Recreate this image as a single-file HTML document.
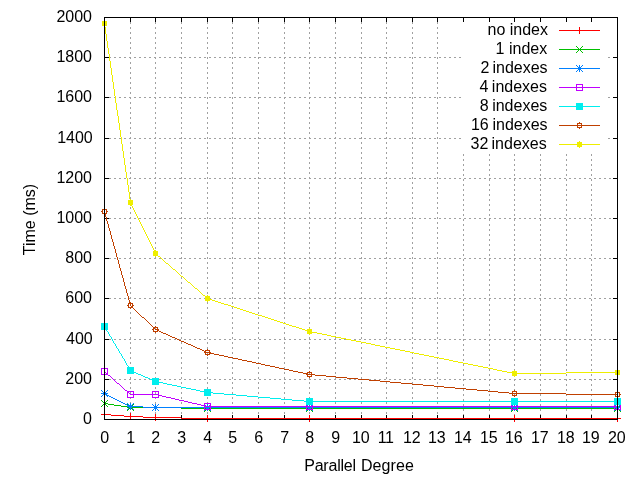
<!DOCTYPE html>
<html><head><meta charset="utf-8"><style>
html,body{margin:0;padding:0;background:#fff;width:640px;height:480px;overflow:hidden}
svg{display:block;will-change:transform}
text{font-family:"Liberation Sans",sans-serif;font-size:16px;fill:#000}
</style></head><body>
<svg width="640" height="480" viewBox="0 0 640 480">
<rect width="640" height="480" fill="#fff"/>
<g shape-rendering="crispEdges">
<path fill="#000000" d="M104 17h514v1h-514zM104 18h1v1h-1zM130 18h1v1h-1zM155 18h1v1h-1zM181 18h1v1h-1zM207 18h1v1h-1zM232 18h1v1h-1zM258 18h1v1h-1zM284 18h1v1h-1zM309 18h1v1h-1zM335 18h1v1h-1zM361 18h1v1h-1zM386 18h1v1h-1zM412 18h1v1h-1zM437 18h1v1h-1zM463 18h1v1h-1zM489 18h1v1h-1zM514 18h1v1h-1zM540 18h1v1h-1zM566 18h1v1h-1zM591 18h1v1h-1zM617 18h1v1h-1zM104 19h1v1h-1zM130 19h1v1h-1zM155 19h1v1h-1zM181 19h1v1h-1zM207 19h1v1h-1zM232 19h1v1h-1zM258 19h1v1h-1zM284 19h1v1h-1zM309 19h1v1h-1zM335 19h1v1h-1zM361 19h1v1h-1zM386 19h1v1h-1zM412 19h1v1h-1zM437 19h1v1h-1zM463 19h1v1h-1zM489 19h1v1h-1zM514 19h1v1h-1zM540 19h1v1h-1zM566 19h1v1h-1zM591 19h1v1h-1zM617 19h1v1h-1zM104 20h1v1h-1zM130 20h1v1h-1zM155 20h1v1h-1zM181 20h1v1h-1zM207 20h1v1h-1zM232 20h1v1h-1zM258 20h1v1h-1zM284 20h1v1h-1zM309 20h1v1h-1zM335 20h1v1h-1zM361 20h1v1h-1zM386 20h1v1h-1zM412 20h1v1h-1zM437 20h1v1h-1zM463 20h1v1h-1zM489 20h1v1h-1zM514 20h1v1h-1zM540 20h1v1h-1zM566 20h1v1h-1zM591 20h1v1h-1zM617 20h1v1h-1zM104 21h1v1h-1zM130 21h1v1h-1zM155 21h1v1h-1zM181 21h1v1h-1zM207 21h1v1h-1zM232 21h1v1h-1zM258 21h1v1h-1zM284 21h1v1h-1zM309 21h1v1h-1zM335 21h1v1h-1zM361 21h1v1h-1zM386 21h1v1h-1zM412 21h1v1h-1zM437 21h1v1h-1zM463 21h1v1h-1zM489 21h1v1h-1zM514 21h1v1h-1zM540 21h1v1h-1zM566 21h1v1h-1zM591 21h1v1h-1zM617 21h1v1h-1zM104 22h1v1h-1zM617 22h1v1h-1zM104 23h1v1h-1zM617 23h1v1h-1zM104 24h1v1h-1zM617 24h1v1h-1zM104 25h1v1h-1zM617 25h1v1h-1zM104 26h1v1h-1zM617 26h1v1h-1zM104 27h1v1h-1zM617 27h1v1h-1zM104 28h1v1h-1zM617 28h1v1h-1zM104 29h1v1h-1zM617 29h1v1h-1zM104 30h1v1h-1zM617 30h1v1h-1zM104 31h1v1h-1zM617 31h1v1h-1zM104 32h1v1h-1zM617 32h1v1h-1zM104 33h1v1h-1zM617 33h1v1h-1zM104 34h1v1h-1zM617 34h1v1h-1zM104 35h1v1h-1zM617 35h1v1h-1zM104 36h1v1h-1zM617 36h1v1h-1zM104 37h1v1h-1zM617 37h1v1h-1zM104 38h1v1h-1zM617 38h1v1h-1zM104 39h1v1h-1zM617 39h1v1h-1zM104 40h1v1h-1zM617 40h1v1h-1zM104 41h1v1h-1zM617 41h1v1h-1zM104 42h1v1h-1zM617 42h1v1h-1zM104 43h1v1h-1zM617 43h1v1h-1zM104 44h1v1h-1zM617 44h1v1h-1zM104 45h1v1h-1zM617 45h1v1h-1zM104 46h1v1h-1zM617 46h1v1h-1zM104 47h1v1h-1zM617 47h1v1h-1zM104 48h1v1h-1zM617 48h1v1h-1zM104 49h1v1h-1zM617 49h1v1h-1zM104 50h1v1h-1zM617 50h1v1h-1zM104 51h1v1h-1zM617 51h1v1h-1zM104 52h1v1h-1zM617 52h1v1h-1zM104 53h1v1h-1zM617 53h1v1h-1zM104 54h1v1h-1zM617 54h1v1h-1zM104 55h1v1h-1zM617 55h1v1h-1zM104 56h1v1h-1zM617 56h1v1h-1zM104 57h5v1h-5zM613 57h5v1h-5zM104 58h1v1h-1zM617 58h1v1h-1zM104 59h1v1h-1zM617 59h1v1h-1zM104 60h1v1h-1zM617 60h1v1h-1zM104 61h1v1h-1zM617 61h1v1h-1zM104 62h1v1h-1zM617 62h1v1h-1zM104 63h1v1h-1zM617 63h1v1h-1zM104 64h1v1h-1zM617 64h1v1h-1zM104 65h1v1h-1zM617 65h1v1h-1zM104 66h1v1h-1zM617 66h1v1h-1zM104 67h1v1h-1zM617 67h1v1h-1zM104 68h1v1h-1zM617 68h1v1h-1zM104 69h1v1h-1zM617 69h1v1h-1zM104 70h1v1h-1zM617 70h1v1h-1zM104 71h1v1h-1zM617 71h1v1h-1zM104 72h1v1h-1zM617 72h1v1h-1zM104 73h1v1h-1zM617 73h1v1h-1zM104 74h1v1h-1zM617 74h1v1h-1zM104 75h1v1h-1zM617 75h1v1h-1zM104 76h1v1h-1zM617 76h1v1h-1zM104 77h1v1h-1zM617 77h1v1h-1zM104 78h1v1h-1zM617 78h1v1h-1zM104 79h1v1h-1zM617 79h1v1h-1zM104 80h1v1h-1zM617 80h1v1h-1zM104 81h1v1h-1zM617 81h1v1h-1zM104 82h1v1h-1zM617 82h1v1h-1zM104 83h1v1h-1zM617 83h1v1h-1zM104 84h1v1h-1zM617 84h1v1h-1zM104 85h1v1h-1zM617 85h1v1h-1zM104 86h1v1h-1zM617 86h1v1h-1zM104 87h1v1h-1zM617 87h1v1h-1zM104 88h1v1h-1zM617 88h1v1h-1zM104 89h1v1h-1zM617 89h1v1h-1zM104 90h1v1h-1zM617 90h1v1h-1zM104 91h1v1h-1zM617 91h1v1h-1zM104 92h1v1h-1zM617 92h1v1h-1zM104 93h1v1h-1zM617 93h1v1h-1zM104 94h1v1h-1zM617 94h1v1h-1zM104 95h1v1h-1zM617 95h1v1h-1zM104 96h1v1h-1zM617 96h1v1h-1zM104 97h5v1h-5zM613 97h5v1h-5zM104 98h1v1h-1zM617 98h1v1h-1zM104 99h1v1h-1zM617 99h1v1h-1zM104 100h1v1h-1zM617 100h1v1h-1zM104 101h1v1h-1zM617 101h1v1h-1zM104 102h1v1h-1zM617 102h1v1h-1zM104 103h1v1h-1zM617 103h1v1h-1zM104 104h1v1h-1zM617 104h1v1h-1zM104 105h1v1h-1zM617 105h1v1h-1zM104 106h1v1h-1zM617 106h1v1h-1zM104 107h1v1h-1zM617 107h1v1h-1zM104 108h1v1h-1zM617 108h1v1h-1zM104 109h1v1h-1zM617 109h1v1h-1zM104 110h1v1h-1zM617 110h1v1h-1zM104 111h1v1h-1zM617 111h1v1h-1zM104 112h1v1h-1zM617 112h1v1h-1zM104 113h1v1h-1zM617 113h1v1h-1zM104 114h1v1h-1zM617 114h1v1h-1zM104 115h1v1h-1zM617 115h1v1h-1zM104 116h1v1h-1zM617 116h1v1h-1zM104 117h1v1h-1zM617 117h1v1h-1zM104 118h1v1h-1zM617 118h1v1h-1zM104 119h1v1h-1zM617 119h1v1h-1zM104 120h1v1h-1zM617 120h1v1h-1zM104 121h1v1h-1zM617 121h1v1h-1zM104 122h1v1h-1zM617 122h1v1h-1zM104 123h1v1h-1zM617 123h1v1h-1zM104 124h1v1h-1zM617 124h1v1h-1zM104 125h1v1h-1zM617 125h1v1h-1zM104 126h1v1h-1zM617 126h1v1h-1zM104 127h1v1h-1zM617 127h1v1h-1zM104 128h1v1h-1zM617 128h1v1h-1zM104 129h1v1h-1zM617 129h1v1h-1zM104 130h1v1h-1zM617 130h1v1h-1zM104 131h1v1h-1zM617 131h1v1h-1zM104 132h1v1h-1zM617 132h1v1h-1zM104 133h1v1h-1zM617 133h1v1h-1zM104 134h1v1h-1zM617 134h1v1h-1zM104 135h1v1h-1zM617 135h1v1h-1zM104 136h1v1h-1zM617 136h1v1h-1zM104 137h1v1h-1zM617 137h1v1h-1zM104 138h5v1h-5zM613 138h5v1h-5zM104 139h1v1h-1zM617 139h1v1h-1zM104 140h1v1h-1zM617 140h1v1h-1zM104 141h1v1h-1zM617 141h1v1h-1zM104 142h1v1h-1zM617 142h1v1h-1zM104 143h1v1h-1zM617 143h1v1h-1zM104 144h1v1h-1zM617 144h1v1h-1zM104 145h1v1h-1zM617 145h1v1h-1zM104 146h1v1h-1zM617 146h1v1h-1zM104 147h1v1h-1zM617 147h1v1h-1zM104 148h1v1h-1zM617 148h1v1h-1zM104 149h1v1h-1zM617 149h1v1h-1zM104 150h1v1h-1zM617 150h1v1h-1zM104 151h1v1h-1zM617 151h1v1h-1zM104 152h1v1h-1zM617 152h1v1h-1zM104 153h1v1h-1zM617 153h1v1h-1zM104 154h1v1h-1zM617 154h1v1h-1zM104 155h1v1h-1zM617 155h1v1h-1zM104 156h1v1h-1zM617 156h1v1h-1zM104 157h1v1h-1zM617 157h1v1h-1zM104 158h1v1h-1zM617 158h1v1h-1zM104 159h1v1h-1zM617 159h1v1h-1zM104 160h1v1h-1zM617 160h1v1h-1zM104 161h1v1h-1zM617 161h1v1h-1zM104 162h1v1h-1zM617 162h1v1h-1zM104 163h1v1h-1zM617 163h1v1h-1zM104 164h1v1h-1zM617 164h1v1h-1zM104 165h1v1h-1zM617 165h1v1h-1zM104 166h1v1h-1zM617 166h1v1h-1zM104 167h1v1h-1zM617 167h1v1h-1zM104 168h1v1h-1zM617 168h1v1h-1zM104 169h1v1h-1zM617 169h1v1h-1zM104 170h1v1h-1zM617 170h1v1h-1zM104 171h1v1h-1zM617 171h1v1h-1zM104 172h1v1h-1zM617 172h1v1h-1zM104 173h1v1h-1zM617 173h1v1h-1zM104 174h1v1h-1zM617 174h1v1h-1zM104 175h1v1h-1zM617 175h1v1h-1zM104 176h1v1h-1zM617 176h1v1h-1zM104 177h1v1h-1zM617 177h1v1h-1zM104 178h5v1h-5zM613 178h5v1h-5zM104 179h1v1h-1zM617 179h1v1h-1zM104 180h1v1h-1zM617 180h1v1h-1zM104 181h1v1h-1zM617 181h1v1h-1zM104 182h1v1h-1zM617 182h1v1h-1zM104 183h1v1h-1zM617 183h1v1h-1zM104 184h1v1h-1zM617 184h1v1h-1zM104 185h1v1h-1zM617 185h1v1h-1zM104 186h1v1h-1zM617 186h1v1h-1zM104 187h1v1h-1zM617 187h1v1h-1zM104 188h1v1h-1zM617 188h1v1h-1zM104 189h1v1h-1zM617 189h1v1h-1zM104 190h1v1h-1zM617 190h1v1h-1zM104 191h1v1h-1zM617 191h1v1h-1zM104 192h1v1h-1zM617 192h1v1h-1zM104 193h1v1h-1zM617 193h1v1h-1zM104 194h1v1h-1zM617 194h1v1h-1zM104 195h1v1h-1zM617 195h1v1h-1zM104 196h1v1h-1zM617 196h1v1h-1zM104 197h1v1h-1zM617 197h1v1h-1zM104 198h1v1h-1zM617 198h1v1h-1zM104 199h1v1h-1zM617 199h1v1h-1zM104 200h1v1h-1zM617 200h1v1h-1zM104 201h1v1h-1zM617 201h1v1h-1zM104 202h1v1h-1zM617 202h1v1h-1zM104 203h1v1h-1zM617 203h1v1h-1zM104 204h1v1h-1zM617 204h1v1h-1zM104 205h1v1h-1zM617 205h1v1h-1zM104 206h1v1h-1zM617 206h1v1h-1zM104 207h1v1h-1zM617 207h1v1h-1zM104 208h1v1h-1zM617 208h1v1h-1zM104 209h1v1h-1zM617 209h1v1h-1zM104 210h1v1h-1zM617 210h1v1h-1zM104 211h1v1h-1zM617 211h1v1h-1zM104 212h1v1h-1zM617 212h1v1h-1zM104 213h1v1h-1zM617 213h1v1h-1zM104 214h1v1h-1zM617 214h1v1h-1zM104 215h1v1h-1zM617 215h1v1h-1zM104 216h1v1h-1zM617 216h1v1h-1zM104 217h1v1h-1zM617 217h1v1h-1zM104 218h2v1h-2zM107 218h2v1h-2zM613 218h5v1h-5zM104 219h1v1h-1zM617 219h1v1h-1zM104 220h1v1h-1zM617 220h1v1h-1zM104 221h1v1h-1zM617 221h1v1h-1zM104 222h1v1h-1zM617 222h1v1h-1zM104 223h1v1h-1zM617 223h1v1h-1zM104 224h1v1h-1zM617 224h1v1h-1zM104 225h1v1h-1zM617 225h1v1h-1zM104 226h1v1h-1zM617 226h1v1h-1zM104 227h1v1h-1zM617 227h1v1h-1zM104 228h1v1h-1zM617 228h1v1h-1zM104 229h1v1h-1zM617 229h1v1h-1zM104 230h1v1h-1zM617 230h1v1h-1zM104 231h1v1h-1zM617 231h1v1h-1zM104 232h1v1h-1zM617 232h1v1h-1zM104 233h1v1h-1zM617 233h1v1h-1zM104 234h1v1h-1zM617 234h1v1h-1zM104 235h1v1h-1zM617 235h1v1h-1zM104 236h1v1h-1zM617 236h1v1h-1zM104 237h1v1h-1zM617 237h1v1h-1zM104 238h1v1h-1zM617 238h1v1h-1zM104 239h1v1h-1zM617 239h1v1h-1zM104 240h1v1h-1zM617 240h1v1h-1zM104 241h1v1h-1zM617 241h1v1h-1zM104 242h1v1h-1zM617 242h1v1h-1zM104 243h1v1h-1zM617 243h1v1h-1zM104 244h1v1h-1zM617 244h1v1h-1zM104 245h1v1h-1zM617 245h1v1h-1zM104 246h1v1h-1zM617 246h1v1h-1zM104 247h1v1h-1zM617 247h1v1h-1zM104 248h1v1h-1zM617 248h1v1h-1zM104 249h1v1h-1zM617 249h1v1h-1zM104 250h1v1h-1zM617 250h1v1h-1zM104 251h1v1h-1zM617 251h1v1h-1zM104 252h1v1h-1zM617 252h1v1h-1zM104 253h1v1h-1zM617 253h1v1h-1zM104 254h1v1h-1zM617 254h1v1h-1zM104 255h1v1h-1zM617 255h1v1h-1zM104 256h1v1h-1zM617 256h1v1h-1zM104 257h1v1h-1zM617 257h1v1h-1zM104 258h5v1h-5zM613 258h5v1h-5zM104 259h1v1h-1zM617 259h1v1h-1zM104 260h1v1h-1zM617 260h1v1h-1zM104 261h1v1h-1zM617 261h1v1h-1zM104 262h1v1h-1zM617 262h1v1h-1zM104 263h1v1h-1zM617 263h1v1h-1zM104 264h1v1h-1zM617 264h1v1h-1zM104 265h1v1h-1zM617 265h1v1h-1zM104 266h1v1h-1zM617 266h1v1h-1zM104 267h1v1h-1zM617 267h1v1h-1zM104 268h1v1h-1zM617 268h1v1h-1zM104 269h1v1h-1zM617 269h1v1h-1zM104 270h1v1h-1zM617 270h1v1h-1zM104 271h1v1h-1zM617 271h1v1h-1zM104 272h1v1h-1zM617 272h1v1h-1zM104 273h1v1h-1zM617 273h1v1h-1zM104 274h1v1h-1zM617 274h1v1h-1zM104 275h1v1h-1zM617 275h1v1h-1zM104 276h1v1h-1zM617 276h1v1h-1zM104 277h1v1h-1zM617 277h1v1h-1zM104 278h1v1h-1zM617 278h1v1h-1zM104 279h1v1h-1zM617 279h1v1h-1zM104 280h1v1h-1zM617 280h1v1h-1zM104 281h1v1h-1zM617 281h1v1h-1zM104 282h1v1h-1zM617 282h1v1h-1zM104 283h1v1h-1zM617 283h1v1h-1zM104 284h1v1h-1zM617 284h1v1h-1zM104 285h1v1h-1zM617 285h1v1h-1zM104 286h1v1h-1zM617 286h1v1h-1zM104 287h1v1h-1zM617 287h1v1h-1zM104 288h1v1h-1zM617 288h1v1h-1zM104 289h1v1h-1zM617 289h1v1h-1zM104 290h1v1h-1zM617 290h1v1h-1zM104 291h1v1h-1zM617 291h1v1h-1zM104 292h1v1h-1zM617 292h1v1h-1zM104 293h1v1h-1zM617 293h1v1h-1zM104 294h1v1h-1zM617 294h1v1h-1zM104 295h1v1h-1zM617 295h1v1h-1zM104 296h1v1h-1zM617 296h1v1h-1zM104 297h1v1h-1zM617 297h1v1h-1zM104 298h5v1h-5zM613 298h5v1h-5zM104 299h1v1h-1zM617 299h1v1h-1zM104 300h1v1h-1zM617 300h1v1h-1zM104 301h1v1h-1zM617 301h1v1h-1zM104 302h1v1h-1zM617 302h1v1h-1zM104 303h1v1h-1zM617 303h1v1h-1zM104 304h1v1h-1zM617 304h1v1h-1zM104 305h1v1h-1zM617 305h1v1h-1zM104 306h1v1h-1zM617 306h1v1h-1zM104 307h1v1h-1zM617 307h1v1h-1zM104 308h1v1h-1zM617 308h1v1h-1zM104 309h1v1h-1zM617 309h1v1h-1zM104 310h1v1h-1zM617 310h1v1h-1zM104 311h1v1h-1zM617 311h1v1h-1zM104 312h1v1h-1zM617 312h1v1h-1zM104 313h1v1h-1zM617 313h1v1h-1zM104 314h1v1h-1zM617 314h1v1h-1zM104 315h1v1h-1zM617 315h1v1h-1zM104 316h1v1h-1zM617 316h1v1h-1zM104 317h1v1h-1zM617 317h1v1h-1zM104 318h1v1h-1zM617 318h1v1h-1zM104 319h1v1h-1zM617 319h1v1h-1zM104 320h1v1h-1zM617 320h1v1h-1zM104 321h1v1h-1zM617 321h1v1h-1zM104 322h1v1h-1zM617 322h1v1h-1zM104 323h1v1h-1zM617 323h1v1h-1zM104 324h1v1h-1zM617 324h1v1h-1zM104 325h1v1h-1zM617 325h1v1h-1zM104 326h1v1h-1zM617 326h1v1h-1zM104 327h1v1h-1zM617 327h1v1h-1zM104 328h1v1h-1zM617 328h1v1h-1zM104 329h1v1h-1zM617 329h1v1h-1zM104 330h1v1h-1zM617 330h1v1h-1zM104 331h1v1h-1zM617 331h1v1h-1zM104 332h1v1h-1zM617 332h1v1h-1zM104 333h1v1h-1zM617 333h1v1h-1zM104 334h1v1h-1zM617 334h1v1h-1zM104 335h1v1h-1zM617 335h1v1h-1zM104 336h1v1h-1zM617 336h1v1h-1zM104 337h1v1h-1zM617 337h1v1h-1zM104 338h1v1h-1zM617 338h1v1h-1zM104 339h5v1h-5zM613 339h5v1h-5zM104 340h1v1h-1zM617 340h1v1h-1zM104 341h1v1h-1zM617 341h1v1h-1zM104 342h1v1h-1zM617 342h1v1h-1zM104 343h1v1h-1zM617 343h1v1h-1zM104 344h1v1h-1zM617 344h1v1h-1zM104 345h1v1h-1zM617 345h1v1h-1zM104 346h1v1h-1zM617 346h1v1h-1zM104 347h1v1h-1zM617 347h1v1h-1zM104 348h1v1h-1zM617 348h1v1h-1zM104 349h1v1h-1zM617 349h1v1h-1zM104 350h1v1h-1zM617 350h1v1h-1zM104 351h1v1h-1zM617 351h1v1h-1zM104 352h1v1h-1zM617 352h1v1h-1zM104 353h1v1h-1zM617 353h1v1h-1zM104 354h1v1h-1zM617 354h1v1h-1zM104 355h1v1h-1zM617 355h1v1h-1zM104 356h1v1h-1zM617 356h1v1h-1zM104 357h1v1h-1zM617 357h1v1h-1zM104 358h1v1h-1zM617 358h1v1h-1zM104 359h1v1h-1zM617 359h1v1h-1zM104 360h1v1h-1zM617 360h1v1h-1zM104 361h1v1h-1zM617 361h1v1h-1zM104 362h1v1h-1zM617 362h1v1h-1zM104 363h1v1h-1zM617 363h1v1h-1zM104 364h1v1h-1zM617 364h1v1h-1zM104 365h1v1h-1zM617 365h1v1h-1zM104 366h1v1h-1zM617 366h1v1h-1zM104 367h1v1h-1zM617 367h1v1h-1zM104 368h1v1h-1zM617 368h1v1h-1zM104 369h1v1h-1zM617 369h1v1h-1zM104 370h1v1h-1zM617 370h1v1h-1zM104 371h1v1h-1zM617 371h1v1h-1zM104 372h1v1h-1zM617 372h1v1h-1zM104 373h1v1h-1zM617 373h1v1h-1zM104 374h1v1h-1zM617 374h1v1h-1zM104 375h1v1h-1zM617 375h1v1h-1zM104 376h1v1h-1zM617 376h1v1h-1zM104 377h1v1h-1zM617 377h1v1h-1zM104 378h1v1h-1zM617 378h1v1h-1zM104 379h5v1h-5zM613 379h5v1h-5zM104 380h1v1h-1zM617 380h1v1h-1zM104 381h1v1h-1zM617 381h1v1h-1zM104 382h1v1h-1zM617 382h1v1h-1zM104 383h1v1h-1zM617 383h1v1h-1zM104 384h1v1h-1zM617 384h1v1h-1zM104 385h1v1h-1zM617 385h1v1h-1zM104 386h1v1h-1zM617 386h1v1h-1zM104 387h1v1h-1zM617 387h1v1h-1zM104 388h1v1h-1zM617 388h1v1h-1zM104 389h1v1h-1zM617 389h1v1h-1zM104 390h1v1h-1zM617 390h1v1h-1zM104 391h1v1h-1zM617 391h1v1h-1zM104 392h1v1h-1zM617 392h1v1h-1zM104 393h1v1h-1zM617 393h1v1h-1zM104 394h1v1h-1zM617 394h1v1h-1zM104 395h1v1h-1zM617 395h1v1h-1zM104 396h1v1h-1zM617 396h1v1h-1zM104 397h1v1h-1zM617 397h1v1h-1zM104 398h1v1h-1zM617 398h1v1h-1zM104 399h1v1h-1zM617 399h1v1h-1zM104 400h1v1h-1zM617 400h1v1h-1zM104 401h1v1h-1zM617 401h1v1h-1zM104 402h1v1h-1zM617 402h1v1h-1zM104 403h1v1h-1zM617 403h1v1h-1zM104 404h1v1h-1zM617 404h1v1h-1zM104 405h1v1h-1zM617 405h1v1h-1zM104 406h1v1h-1zM617 406h1v1h-1zM104 407h1v1h-1zM617 407h1v1h-1zM104 408h1v1h-1zM617 408h1v1h-1zM104 409h1v1h-1zM617 409h1v1h-1zM104 410h1v1h-1zM617 410h1v1h-1zM104 411h1v1h-1zM617 411h1v1h-1zM104 412h1v1h-1zM617 412h1v1h-1zM104 413h1v1h-1zM617 413h1v1h-1zM104 414h1v1h-1zM617 414h1v1h-1zM104 415h1v1h-1zM181 415h1v1h-1zM232 415h1v1h-1zM258 415h1v1h-1zM284 415h1v1h-1zM335 415h1v1h-1zM361 415h1v1h-1zM386 415h1v1h-1zM412 415h1v1h-1zM437 415h1v1h-1zM463 415h1v1h-1zM489 415h1v1h-1zM540 415h1v1h-1zM566 415h1v1h-1zM591 415h1v1h-1zM617 415h1v1h-1zM104 416h1v1h-1zM181 416h1v1h-1zM232 416h1v1h-1zM258 416h1v1h-1zM284 416h1v1h-1zM335 416h1v1h-1zM361 416h1v1h-1zM386 416h1v1h-1zM412 416h1v1h-1zM437 416h1v1h-1zM463 416h1v1h-1zM489 416h1v1h-1zM540 416h1v1h-1zM566 416h1v1h-1zM591 416h1v1h-1zM617 416h1v1h-1zM104 417h1v1h-1zM181 417h1v1h-1zM232 417h1v1h-1zM258 417h1v1h-1zM284 417h1v1h-1zM335 417h1v1h-1zM361 417h1v1h-1zM386 417h1v1h-1zM412 417h1v1h-1zM437 417h1v1h-1zM463 417h1v1h-1zM489 417h1v1h-1zM540 417h1v1h-1zM566 417h1v1h-1zM591 417h1v1h-1zM617 417h1v1h-1zM104 418h1v1h-1zM617 418h1v1h-1zM104 419h514v1h-514z"/>
<path fill="#eeee00" d="M102 21h2v1h-2zM105 21h2v1h-2zM102 22h2v1h-2zM105 22h2v1h-2zM102 23h2v1h-2zM105 23h2v1h-2zM102 24h2v1h-2zM105 24h2v1h-2zM102 25h2v1h-2zM105 25h2v1h-2zM105 27h1v1h-1zM105 28h1v1h-1zM105 29h1v1h-1zM105 30h1v1h-1zM105 31h1v1h-1zM105 32h1v1h-1zM105 33h1v1h-1zM106 34h1v1h-1zM106 35h1v1h-1zM106 36h1v1h-1zM106 37h1v1h-1zM106 38h1v1h-1zM106 39h1v1h-1zM106 40h1v1h-1zM107 41h1v1h-1zM107 42h1v1h-1zM107 43h1v1h-1zM107 44h1v1h-1zM107 45h1v1h-1zM107 46h1v1h-1zM107 47h1v1h-1zM108 48h1v1h-1zM108 49h1v1h-1zM108 50h1v1h-1zM108 51h1v1h-1zM108 52h1v1h-1zM108 53h1v1h-1zM109 54h1v1h-1zM109 55h1v1h-1zM109 56h1v1h-1zM109 57h1v1h-1zM109 58h1v1h-1zM109 59h1v1h-1zM109 60h1v1h-1zM110 61h1v1h-1zM110 62h1v1h-1zM110 63h1v1h-1zM110 64h1v1h-1zM110 65h1v1h-1zM110 66h1v1h-1zM110 67h1v1h-1zM111 68h1v1h-1zM111 69h1v1h-1zM111 70h1v1h-1zM111 71h1v1h-1zM111 72h1v1h-1zM111 73h1v1h-1zM111 74h1v1h-1zM112 75h1v1h-1zM112 76h1v1h-1zM112 77h1v1h-1zM112 78h1v1h-1zM112 79h1v1h-1zM112 80h1v1h-1zM112 81h1v1h-1zM113 82h1v1h-1zM113 83h1v1h-1zM113 84h1v1h-1zM113 85h1v1h-1zM113 86h1v1h-1zM113 87h1v1h-1zM113 88h1v1h-1zM114 89h1v1h-1zM114 90h1v1h-1zM114 91h1v1h-1zM114 92h1v1h-1zM114 93h1v1h-1zM114 94h1v1h-1zM114 95h1v1h-1zM115 96h1v1h-1zM115 97h1v1h-1zM115 98h1v1h-1zM115 99h1v1h-1zM115 100h1v1h-1zM115 101h1v1h-1zM115 102h1v1h-1zM116 103h1v1h-1zM116 104h1v1h-1zM116 105h1v1h-1zM116 106h1v1h-1zM116 107h1v1h-1zM116 108h1v1h-1zM116 109h1v1h-1zM117 110h1v1h-1zM117 111h1v1h-1zM117 112h1v1h-1zM117 113h1v1h-1zM117 114h1v1h-1zM117 115h1v1h-1zM118 116h1v1h-1zM118 117h1v1h-1zM118 118h1v1h-1zM118 119h1v1h-1zM118 120h1v1h-1zM118 121h1v1h-1zM118 122h1v1h-1zM119 123h1v1h-1zM119 124h1v1h-1zM119 125h1v1h-1zM119 126h1v1h-1zM119 127h1v1h-1zM119 128h1v1h-1zM119 129h1v1h-1zM120 130h1v1h-1zM120 131h1v1h-1zM120 132h1v1h-1zM120 133h1v1h-1zM120 134h1v1h-1zM120 135h1v1h-1zM120 136h1v1h-1zM121 137h1v1h-1zM121 138h1v1h-1zM121 139h1v1h-1zM121 140h1v1h-1zM121 141h1v1h-1zM579 141h1v1h-1zM121 142h1v1h-1zM577 142h5v1h-5zM121 143h1v1h-1zM577 143h5v1h-5zM122 144h1v1h-1zM559 144h41v1h-41zM122 145h1v1h-1zM577 145h5v1h-5zM122 146h1v1h-1zM577 146h5v1h-5zM122 147h1v1h-1zM579 147h1v1h-1zM122 148h1v1h-1zM122 149h1v1h-1zM122 150h1v1h-1zM123 151h1v1h-1zM123 152h1v1h-1zM123 153h1v1h-1zM123 154h1v1h-1zM123 155h1v1h-1zM123 156h1v1h-1zM123 157h1v1h-1zM124 158h1v1h-1zM124 159h1v1h-1zM124 160h1v1h-1zM124 161h1v1h-1zM124 162h1v1h-1zM124 163h1v1h-1zM124 164h1v1h-1zM125 165h1v1h-1zM125 166h1v1h-1zM125 167h1v1h-1zM125 168h1v1h-1zM125 169h1v1h-1zM125 170h1v1h-1zM125 171h1v1h-1zM126 172h1v1h-1zM126 173h1v1h-1zM126 174h1v1h-1zM126 175h1v1h-1zM126 176h1v1h-1zM126 177h1v1h-1zM127 178h1v1h-1zM127 179h1v1h-1zM127 180h1v1h-1zM127 181h1v1h-1zM127 182h1v1h-1zM127 183h1v1h-1zM127 184h1v1h-1zM128 185h1v1h-1zM128 186h1v1h-1zM128 187h1v1h-1zM128 188h1v1h-1zM128 189h1v1h-1zM128 190h1v1h-1zM128 191h1v1h-1zM129 192h1v1h-1zM129 193h1v1h-1zM129 194h1v1h-1zM129 195h1v1h-1zM129 196h1v1h-1zM129 197h1v1h-1zM129 198h1v1h-1zM130 199h1v1h-1zM128 200h5v1h-5zM128 201h5v1h-5zM128 202h5v1h-5zM128 203h5v1h-5zM128 204h5v1h-5zM130 205h2v1h-2zM132 206h1v1h-1zM132 207h1v1h-1zM133 208h1v1h-1zM133 209h1v1h-1zM134 210h1v1h-1zM134 211h1v1h-1zM135 212h1v1h-1zM135 213h1v1h-1zM136 214h1v1h-1zM136 215h1v1h-1zM137 216h1v1h-1zM137 217h1v1h-1zM138 218h1v1h-1zM138 219h1v1h-1zM139 220h1v1h-1zM139 221h1v1h-1zM140 222h1v1h-1zM140 223h1v1h-1zM141 224h1v1h-1zM141 225h1v1h-1zM142 226h1v1h-1zM142 227h1v1h-1zM143 228h1v1h-1zM143 229h1v1h-1zM144 230h1v1h-1zM144 231h1v1h-1zM145 232h1v1h-1zM145 233h1v1h-1zM146 234h1v1h-1zM146 235h1v1h-1zM147 236h1v1h-1zM147 237h1v1h-1zM148 238h1v1h-1zM148 239h1v1h-1zM149 240h1v1h-1zM149 241h1v1h-1zM150 242h1v1h-1zM150 243h1v1h-1zM151 244h1v1h-1zM151 245h1v1h-1zM152 246h1v1h-1zM152 247h1v1h-1zM153 248h1v1h-1zM153 249h1v1h-1zM154 250h2v1h-2zM153 251h5v1h-5zM153 252h5v1h-5zM153 253h5v1h-5zM153 254h5v1h-5zM153 255h5v1h-5zM155 256h1v1h-1zM158 256h2v1h-2zM160 257h1v1h-1zM161 258h1v1h-1zM162 259h1v1h-1zM163 260h1v1h-1zM164 261h1v1h-1zM165 262h1v1h-1zM166 263h2v1h-2zM168 264h1v1h-1zM169 265h1v1h-1zM170 266h1v1h-1zM171 267h1v1h-1zM172 268h1v1h-1zM173 269h2v1h-2zM175 270h1v1h-1zM176 271h1v1h-1zM177 272h1v1h-1zM178 273h1v1h-1zM179 274h1v1h-1zM180 275h1v1h-1zM181 276h2v1h-2zM183 277h1v1h-1zM184 278h1v1h-1zM185 279h1v1h-1zM186 280h1v1h-1zM187 281h1v1h-1zM188 282h2v1h-2zM190 283h1v1h-1zM191 284h1v1h-1zM192 285h1v1h-1zM193 286h1v1h-1zM194 287h1v1h-1zM195 288h2v1h-2zM197 289h1v1h-1zM198 290h1v1h-1zM199 291h1v1h-1zM200 292h1v1h-1zM201 293h1v1h-1zM202 294h1v1h-1zM203 295h2v1h-2zM207 295h1v1h-1zM205 296h5v1h-5zM205 297h5v1h-5zM205 298h5v1h-5zM205 299h7v1h-7zM205 300h5v1h-5zM212 300h3v1h-3zM207 301h1v1h-1zM215 301h3v1h-3zM218 302h3v1h-3zM221 303h3v1h-3zM224 304h4v1h-4zM228 305h3v1h-3zM231 306h3v1h-3zM234 307h3v1h-3zM237 308h3v1h-3zM240 309h3v1h-3zM243 310h3v1h-3zM246 311h3v1h-3zM249 312h3v1h-3zM252 313h3v1h-3zM255 314h3v1h-3zM258 315h4v1h-4zM262 316h3v1h-3zM265 317h3v1h-3zM268 318h3v1h-3zM271 319h3v1h-3zM274 320h3v1h-3zM277 321h3v1h-3zM280 322h3v1h-3zM283 323h3v1h-3zM286 324h3v1h-3zM289 325h3v1h-3zM292 326h4v1h-4zM296 327h3v1h-3zM299 328h3v1h-3zM309 328h1v1h-1zM302 329h3v1h-3zM307 329h5v1h-5zM305 330h7v1h-7zM307 331h5v1h-5zM307 332h10v1h-10zM307 333h5v1h-5zM317 333h5v1h-5zM309 334h1v1h-1zM322 334h5v1h-5zM327 335h4v1h-4zM331 336h5v1h-5zM336 337h5v1h-5zM341 338h5v1h-5zM346 339h5v1h-5zM351 340h5v1h-5zM356 341h5v1h-5zM361 342h5v1h-5zM366 343h5v1h-5zM371 344h4v1h-4zM375 345h5v1h-5zM380 346h5v1h-5zM385 347h5v1h-5zM390 348h5v1h-5zM395 349h5v1h-5zM400 350h5v1h-5zM405 351h5v1h-5zM410 352h4v1h-4zM414 353h5v1h-5zM419 354h5v1h-5zM424 355h5v1h-5zM429 356h5v1h-5zM434 357h5v1h-5zM439 358h5v1h-5zM444 359h5v1h-5zM449 360h4v1h-4zM453 361h5v1h-5zM458 362h5v1h-5zM463 363h5v1h-5zM468 364h5v1h-5zM473 365h5v1h-5zM478 366h5v1h-5zM483 367h5v1h-5zM488 368h5v1h-5zM493 369h4v1h-4zM497 370h5v1h-5zM514 370h1v1h-1zM615 370h2v1h-2zM618 370h2v1h-2zM502 371h5v1h-5zM512 371h5v1h-5zM615 371h2v1h-2zM618 371h2v1h-2zM507 372h10v1h-10zM566 372h51v1h-51zM618 372h2v1h-2zM512 373h54v1h-54zM615 373h2v1h-2zM618 373h2v1h-2zM512 374h5v1h-5zM615 374h2v1h-2zM618 374h2v1h-2zM512 375h5v1h-5zM514 376h1v1h-1z"/>
<path fill="#a0a0a0" d="M130 22h1v1h-1zM155 22h1v1h-1zM181 22h1v1h-1zM207 22h1v1h-1zM232 22h1v1h-1zM258 22h1v1h-1zM284 22h1v1h-1zM309 22h1v1h-1zM335 22h1v1h-1zM361 22h1v1h-1zM386 22h1v1h-1zM412 22h1v1h-1zM437 22h1v1h-1zM130 23h1v1h-1zM155 23h1v1h-1zM181 23h1v1h-1zM207 23h1v1h-1zM232 23h1v1h-1zM258 23h1v1h-1zM284 23h1v1h-1zM309 23h1v1h-1zM335 23h1v1h-1zM361 23h1v1h-1zM386 23h1v1h-1zM412 23h1v1h-1zM437 23h1v1h-1zM130 27h1v1h-1zM155 27h1v1h-1zM181 27h1v1h-1zM207 27h1v1h-1zM232 27h1v1h-1zM258 27h1v1h-1zM284 27h1v1h-1zM309 27h1v1h-1zM335 27h1v1h-1zM361 27h1v1h-1zM386 27h1v1h-1zM412 27h1v1h-1zM437 27h1v1h-1zM130 28h1v1h-1zM155 28h1v1h-1zM181 28h1v1h-1zM207 28h1v1h-1zM232 28h1v1h-1zM258 28h1v1h-1zM284 28h1v1h-1zM309 28h1v1h-1zM335 28h1v1h-1zM361 28h1v1h-1zM386 28h1v1h-1zM412 28h1v1h-1zM437 28h1v1h-1zM130 32h1v1h-1zM155 32h1v1h-1zM181 32h1v1h-1zM207 32h1v1h-1zM232 32h1v1h-1zM258 32h1v1h-1zM284 32h1v1h-1zM309 32h1v1h-1zM335 32h1v1h-1zM361 32h1v1h-1zM386 32h1v1h-1zM412 32h1v1h-1zM437 32h1v1h-1zM130 33h1v1h-1zM155 33h1v1h-1zM181 33h1v1h-1zM207 33h1v1h-1zM232 33h1v1h-1zM258 33h1v1h-1zM284 33h1v1h-1zM309 33h1v1h-1zM335 33h1v1h-1zM361 33h1v1h-1zM386 33h1v1h-1zM412 33h1v1h-1zM437 33h1v1h-1zM130 37h1v1h-1zM155 37h1v1h-1zM181 37h1v1h-1zM207 37h1v1h-1zM232 37h1v1h-1zM258 37h1v1h-1zM284 37h1v1h-1zM309 37h1v1h-1zM335 37h1v1h-1zM361 37h1v1h-1zM386 37h1v1h-1zM412 37h1v1h-1zM437 37h1v1h-1zM130 38h1v1h-1zM155 38h1v1h-1zM181 38h1v1h-1zM207 38h1v1h-1zM232 38h1v1h-1zM258 38h1v1h-1zM284 38h1v1h-1zM309 38h1v1h-1zM335 38h1v1h-1zM361 38h1v1h-1zM386 38h1v1h-1zM412 38h1v1h-1zM437 38h1v1h-1zM130 42h1v1h-1zM155 42h1v1h-1zM181 42h1v1h-1zM207 42h1v1h-1zM232 42h1v1h-1zM258 42h1v1h-1zM284 42h1v1h-1zM309 42h1v1h-1zM335 42h1v1h-1zM361 42h1v1h-1zM386 42h1v1h-1zM412 42h1v1h-1zM437 42h1v1h-1zM130 43h1v1h-1zM155 43h1v1h-1zM181 43h1v1h-1zM207 43h1v1h-1zM232 43h1v1h-1zM258 43h1v1h-1zM284 43h1v1h-1zM309 43h1v1h-1zM335 43h1v1h-1zM361 43h1v1h-1zM386 43h1v1h-1zM412 43h1v1h-1zM437 43h1v1h-1zM130 47h1v1h-1zM155 47h1v1h-1zM181 47h1v1h-1zM207 47h1v1h-1zM232 47h1v1h-1zM258 47h1v1h-1zM284 47h1v1h-1zM309 47h1v1h-1zM335 47h1v1h-1zM361 47h1v1h-1zM386 47h1v1h-1zM412 47h1v1h-1zM437 47h1v1h-1zM130 48h1v1h-1zM155 48h1v1h-1zM181 48h1v1h-1zM207 48h1v1h-1zM232 48h1v1h-1zM258 48h1v1h-1zM284 48h1v1h-1zM309 48h1v1h-1zM335 48h1v1h-1zM361 48h1v1h-1zM386 48h1v1h-1zM412 48h1v1h-1zM437 48h1v1h-1zM130 52h1v1h-1zM155 52h1v1h-1zM181 52h1v1h-1zM207 52h1v1h-1zM232 52h1v1h-1zM258 52h1v1h-1zM284 52h1v1h-1zM309 52h1v1h-1zM335 52h1v1h-1zM361 52h1v1h-1zM386 52h1v1h-1zM412 52h1v1h-1zM437 52h1v1h-1zM130 53h1v1h-1zM155 53h1v1h-1zM181 53h1v1h-1zM207 53h1v1h-1zM232 53h1v1h-1zM258 53h1v1h-1zM284 53h1v1h-1zM309 53h1v1h-1zM335 53h1v1h-1zM361 53h1v1h-1zM386 53h1v1h-1zM412 53h1v1h-1zM437 53h1v1h-1zM110 57h1v1h-1zM114 57h2v1h-2zM119 57h2v1h-2zM124 57h2v1h-2zM129 57h2v1h-2zM134 57h2v1h-2zM139 57h2v1h-2zM144 57h2v1h-2zM149 57h2v1h-2zM154 57h2v1h-2zM159 57h2v1h-2zM164 57h2v1h-2zM169 57h2v1h-2zM174 57h2v1h-2zM179 57h3v1h-3zM184 57h2v1h-2zM189 57h2v1h-2zM194 57h2v1h-2zM199 57h2v1h-2zM204 57h2v1h-2zM207 57h1v1h-1zM209 57h2v1h-2zM214 57h2v1h-2zM219 57h2v1h-2zM224 57h2v1h-2zM229 57h2v1h-2zM232 57h1v1h-1zM234 57h2v1h-2zM239 57h2v1h-2zM244 57h2v1h-2zM249 57h2v1h-2zM254 57h2v1h-2zM258 57h3v1h-3zM264 57h2v1h-2zM269 57h2v1h-2zM274 57h2v1h-2zM279 57h2v1h-2zM284 57h2v1h-2zM289 57h2v1h-2zM294 57h2v1h-2zM299 57h2v1h-2zM304 57h2v1h-2zM309 57h2v1h-2zM314 57h2v1h-2zM319 57h2v1h-2zM324 57h2v1h-2zM329 57h2v1h-2zM334 57h2v1h-2zM339 57h2v1h-2zM344 57h2v1h-2zM349 57h2v1h-2zM354 57h2v1h-2zM359 57h3v1h-3zM364 57h2v1h-2zM369 57h2v1h-2zM374 57h2v1h-2zM379 57h2v1h-2zM384 57h3v1h-3zM389 57h2v1h-2zM394 57h2v1h-2zM399 57h2v1h-2zM404 57h2v1h-2zM409 57h2v1h-2zM412 57h1v1h-1zM414 57h2v1h-2zM419 57h2v1h-2zM424 57h2v1h-2zM429 57h2v1h-2zM434 57h2v1h-2zM437 57h1v1h-1zM439 57h2v1h-2zM444 57h2v1h-2zM449 57h2v1h-2zM454 57h2v1h-2zM459 57h2v1h-2zM608 57h2v1h-2zM130 58h1v1h-1zM155 58h1v1h-1zM181 58h1v1h-1zM207 58h1v1h-1zM232 58h1v1h-1zM258 58h1v1h-1zM284 58h1v1h-1zM309 58h1v1h-1zM335 58h1v1h-1zM361 58h1v1h-1zM386 58h1v1h-1zM412 58h1v1h-1zM437 58h1v1h-1zM130 62h1v1h-1zM155 62h1v1h-1zM181 62h1v1h-1zM207 62h1v1h-1zM232 62h1v1h-1zM258 62h1v1h-1zM284 62h1v1h-1zM309 62h1v1h-1zM335 62h1v1h-1zM361 62h1v1h-1zM386 62h1v1h-1zM412 62h1v1h-1zM437 62h1v1h-1zM130 63h1v1h-1zM155 63h1v1h-1zM181 63h1v1h-1zM207 63h1v1h-1zM232 63h1v1h-1zM258 63h1v1h-1zM284 63h1v1h-1zM309 63h1v1h-1zM335 63h1v1h-1zM361 63h1v1h-1zM386 63h1v1h-1zM412 63h1v1h-1zM437 63h1v1h-1zM130 67h1v1h-1zM155 67h1v1h-1zM181 67h1v1h-1zM207 67h1v1h-1zM232 67h1v1h-1zM258 67h1v1h-1zM284 67h1v1h-1zM309 67h1v1h-1zM335 67h1v1h-1zM361 67h1v1h-1zM386 67h1v1h-1zM412 67h1v1h-1zM437 67h1v1h-1zM130 68h1v1h-1zM155 68h1v1h-1zM181 68h1v1h-1zM207 68h1v1h-1zM232 68h1v1h-1zM258 68h1v1h-1zM284 68h1v1h-1zM309 68h1v1h-1zM335 68h1v1h-1zM361 68h1v1h-1zM386 68h1v1h-1zM412 68h1v1h-1zM437 68h1v1h-1zM130 72h1v1h-1zM155 72h1v1h-1zM181 72h1v1h-1zM207 72h1v1h-1zM232 72h1v1h-1zM258 72h1v1h-1zM284 72h1v1h-1zM309 72h1v1h-1zM335 72h1v1h-1zM361 72h1v1h-1zM386 72h1v1h-1zM412 72h1v1h-1zM437 72h1v1h-1zM130 73h1v1h-1zM155 73h1v1h-1zM181 73h1v1h-1zM207 73h1v1h-1zM232 73h1v1h-1zM258 73h1v1h-1zM284 73h1v1h-1zM309 73h1v1h-1zM335 73h1v1h-1zM361 73h1v1h-1zM386 73h1v1h-1zM412 73h1v1h-1zM437 73h1v1h-1zM130 77h1v1h-1zM155 77h1v1h-1zM181 77h1v1h-1zM207 77h1v1h-1zM232 77h1v1h-1zM258 77h1v1h-1zM284 77h1v1h-1zM309 77h1v1h-1zM335 77h1v1h-1zM361 77h1v1h-1zM386 77h1v1h-1zM412 77h1v1h-1zM437 77h1v1h-1zM130 78h1v1h-1zM155 78h1v1h-1zM181 78h1v1h-1zM207 78h1v1h-1zM232 78h1v1h-1zM258 78h1v1h-1zM284 78h1v1h-1zM309 78h1v1h-1zM335 78h1v1h-1zM361 78h1v1h-1zM386 78h1v1h-1zM412 78h1v1h-1zM437 78h1v1h-1zM130 82h1v1h-1zM155 82h1v1h-1zM181 82h1v1h-1zM207 82h1v1h-1zM232 82h1v1h-1zM258 82h1v1h-1zM284 82h1v1h-1zM309 82h1v1h-1zM335 82h1v1h-1zM361 82h1v1h-1zM386 82h1v1h-1zM412 82h1v1h-1zM437 82h1v1h-1zM130 83h1v1h-1zM155 83h1v1h-1zM181 83h1v1h-1zM207 83h1v1h-1zM232 83h1v1h-1zM258 83h1v1h-1zM284 83h1v1h-1zM309 83h1v1h-1zM335 83h1v1h-1zM361 83h1v1h-1zM386 83h1v1h-1zM412 83h1v1h-1zM437 83h1v1h-1zM130 87h1v1h-1zM155 87h1v1h-1zM181 87h1v1h-1zM207 87h1v1h-1zM232 87h1v1h-1zM258 87h1v1h-1zM284 87h1v1h-1zM309 87h1v1h-1zM335 87h1v1h-1zM361 87h1v1h-1zM386 87h1v1h-1zM412 87h1v1h-1zM437 87h1v1h-1zM130 88h1v1h-1zM155 88h1v1h-1zM181 88h1v1h-1zM207 88h1v1h-1zM232 88h1v1h-1zM258 88h1v1h-1zM284 88h1v1h-1zM309 88h1v1h-1zM335 88h1v1h-1zM361 88h1v1h-1zM386 88h1v1h-1zM412 88h1v1h-1zM437 88h1v1h-1zM130 92h1v1h-1zM155 92h1v1h-1zM181 92h1v1h-1zM207 92h1v1h-1zM232 92h1v1h-1zM258 92h1v1h-1zM284 92h1v1h-1zM309 92h1v1h-1zM335 92h1v1h-1zM361 92h1v1h-1zM386 92h1v1h-1zM412 92h1v1h-1zM437 92h1v1h-1zM130 93h1v1h-1zM155 93h1v1h-1zM181 93h1v1h-1zM207 93h1v1h-1zM232 93h1v1h-1zM258 93h1v1h-1zM284 93h1v1h-1zM309 93h1v1h-1zM335 93h1v1h-1zM361 93h1v1h-1zM386 93h1v1h-1zM412 93h1v1h-1zM437 93h1v1h-1zM109 97h2v1h-2zM114 97h1v1h-1zM119 97h2v1h-2zM124 97h2v1h-2zM129 97h2v1h-2zM134 97h2v1h-2zM139 97h2v1h-2zM144 97h2v1h-2zM149 97h2v1h-2zM154 97h2v1h-2zM159 97h2v1h-2zM164 97h2v1h-2zM169 97h2v1h-2zM174 97h2v1h-2zM179 97h3v1h-3zM184 97h2v1h-2zM189 97h2v1h-2zM194 97h2v1h-2zM199 97h2v1h-2zM204 97h2v1h-2zM207 97h1v1h-1zM209 97h2v1h-2zM214 97h2v1h-2zM219 97h2v1h-2zM224 97h2v1h-2zM229 97h2v1h-2zM232 97h1v1h-1zM234 97h2v1h-2zM239 97h2v1h-2zM244 97h2v1h-2zM249 97h2v1h-2zM254 97h2v1h-2zM258 97h3v1h-3zM264 97h2v1h-2zM269 97h2v1h-2zM274 97h2v1h-2zM279 97h2v1h-2zM284 97h2v1h-2zM289 97h2v1h-2zM294 97h2v1h-2zM299 97h2v1h-2zM304 97h2v1h-2zM309 97h2v1h-2zM314 97h2v1h-2zM319 97h2v1h-2zM324 97h2v1h-2zM329 97h2v1h-2zM334 97h2v1h-2zM339 97h2v1h-2zM344 97h2v1h-2zM349 97h2v1h-2zM354 97h2v1h-2zM359 97h3v1h-3zM364 97h2v1h-2zM369 97h2v1h-2zM374 97h2v1h-2zM379 97h2v1h-2zM384 97h3v1h-3zM389 97h2v1h-2zM394 97h2v1h-2zM399 97h2v1h-2zM404 97h2v1h-2zM409 97h2v1h-2zM412 97h1v1h-1zM414 97h2v1h-2zM419 97h2v1h-2zM424 97h2v1h-2zM429 97h2v1h-2zM434 97h2v1h-2zM437 97h1v1h-1zM439 97h2v1h-2zM444 97h2v1h-2zM449 97h2v1h-2zM454 97h2v1h-2zM459 97h2v1h-2zM608 97h2v1h-2zM130 98h1v1h-1zM155 98h1v1h-1zM181 98h1v1h-1zM207 98h1v1h-1zM232 98h1v1h-1zM258 98h1v1h-1zM284 98h1v1h-1zM309 98h1v1h-1zM335 98h1v1h-1zM361 98h1v1h-1zM386 98h1v1h-1zM412 98h1v1h-1zM437 98h1v1h-1zM130 102h1v1h-1zM155 102h1v1h-1zM181 102h1v1h-1zM207 102h1v1h-1zM232 102h1v1h-1zM258 102h1v1h-1zM284 102h1v1h-1zM309 102h1v1h-1zM335 102h1v1h-1zM361 102h1v1h-1zM386 102h1v1h-1zM412 102h1v1h-1zM437 102h1v1h-1zM130 103h1v1h-1zM155 103h1v1h-1zM181 103h1v1h-1zM207 103h1v1h-1zM232 103h1v1h-1zM258 103h1v1h-1zM284 103h1v1h-1zM309 103h1v1h-1zM335 103h1v1h-1zM361 103h1v1h-1zM386 103h1v1h-1zM412 103h1v1h-1zM437 103h1v1h-1zM130 107h1v1h-1zM155 107h1v1h-1zM181 107h1v1h-1zM207 107h1v1h-1zM232 107h1v1h-1zM258 107h1v1h-1zM284 107h1v1h-1zM309 107h1v1h-1zM335 107h1v1h-1zM361 107h1v1h-1zM386 107h1v1h-1zM412 107h1v1h-1zM437 107h1v1h-1zM130 108h1v1h-1zM155 108h1v1h-1zM181 108h1v1h-1zM207 108h1v1h-1zM232 108h1v1h-1zM258 108h1v1h-1zM284 108h1v1h-1zM309 108h1v1h-1zM335 108h1v1h-1zM361 108h1v1h-1zM386 108h1v1h-1zM412 108h1v1h-1zM437 108h1v1h-1zM130 112h1v1h-1zM155 112h1v1h-1zM181 112h1v1h-1zM207 112h1v1h-1zM232 112h1v1h-1zM258 112h1v1h-1zM284 112h1v1h-1zM309 112h1v1h-1zM335 112h1v1h-1zM361 112h1v1h-1zM386 112h1v1h-1zM412 112h1v1h-1zM437 112h1v1h-1zM130 113h1v1h-1zM155 113h1v1h-1zM181 113h1v1h-1zM207 113h1v1h-1zM232 113h1v1h-1zM258 113h1v1h-1zM284 113h1v1h-1zM309 113h1v1h-1zM335 113h1v1h-1zM361 113h1v1h-1zM386 113h1v1h-1zM412 113h1v1h-1zM437 113h1v1h-1zM130 117h1v1h-1zM155 117h1v1h-1zM181 117h1v1h-1zM207 117h1v1h-1zM232 117h1v1h-1zM258 117h1v1h-1zM284 117h1v1h-1zM309 117h1v1h-1zM335 117h1v1h-1zM361 117h1v1h-1zM386 117h1v1h-1zM412 117h1v1h-1zM437 117h1v1h-1zM130 118h1v1h-1zM155 118h1v1h-1zM181 118h1v1h-1zM207 118h1v1h-1zM232 118h1v1h-1zM258 118h1v1h-1zM284 118h1v1h-1zM309 118h1v1h-1zM335 118h1v1h-1zM361 118h1v1h-1zM386 118h1v1h-1zM412 118h1v1h-1zM437 118h1v1h-1zM130 122h1v1h-1zM155 122h1v1h-1zM181 122h1v1h-1zM207 122h1v1h-1zM232 122h1v1h-1zM258 122h1v1h-1zM284 122h1v1h-1zM309 122h1v1h-1zM335 122h1v1h-1zM361 122h1v1h-1zM386 122h1v1h-1zM412 122h1v1h-1zM437 122h1v1h-1zM130 123h1v1h-1zM155 123h1v1h-1zM181 123h1v1h-1zM207 123h1v1h-1zM232 123h1v1h-1zM258 123h1v1h-1zM284 123h1v1h-1zM309 123h1v1h-1zM335 123h1v1h-1zM361 123h1v1h-1zM386 123h1v1h-1zM412 123h1v1h-1zM437 123h1v1h-1zM130 127h1v1h-1zM155 127h1v1h-1zM181 127h1v1h-1zM207 127h1v1h-1zM232 127h1v1h-1zM258 127h1v1h-1zM284 127h1v1h-1zM309 127h1v1h-1zM335 127h1v1h-1zM361 127h1v1h-1zM386 127h1v1h-1zM412 127h1v1h-1zM437 127h1v1h-1zM130 128h1v1h-1zM155 128h1v1h-1zM181 128h1v1h-1zM207 128h1v1h-1zM232 128h1v1h-1zM258 128h1v1h-1zM284 128h1v1h-1zM309 128h1v1h-1zM335 128h1v1h-1zM361 128h1v1h-1zM386 128h1v1h-1zM412 128h1v1h-1zM437 128h1v1h-1zM130 132h1v1h-1zM155 132h1v1h-1zM181 132h1v1h-1zM207 132h1v1h-1zM232 132h1v1h-1zM258 132h1v1h-1zM284 132h1v1h-1zM309 132h1v1h-1zM335 132h1v1h-1zM361 132h1v1h-1zM386 132h1v1h-1zM412 132h1v1h-1zM437 132h1v1h-1zM130 133h1v1h-1zM155 133h1v1h-1zM181 133h1v1h-1zM207 133h1v1h-1zM232 133h1v1h-1zM258 133h1v1h-1zM284 133h1v1h-1zM309 133h1v1h-1zM335 133h1v1h-1zM361 133h1v1h-1zM386 133h1v1h-1zM412 133h1v1h-1zM437 133h1v1h-1zM130 137h1v1h-1zM155 137h1v1h-1zM181 137h1v1h-1zM207 137h1v1h-1zM232 137h1v1h-1zM258 137h1v1h-1zM284 137h1v1h-1zM309 137h1v1h-1zM335 137h1v1h-1zM361 137h1v1h-1zM386 137h1v1h-1zM412 137h1v1h-1zM437 137h1v1h-1zM109 138h2v1h-2zM114 138h2v1h-2zM119 138h2v1h-2zM124 138h2v1h-2zM129 138h2v1h-2zM134 138h2v1h-2zM139 138h2v1h-2zM144 138h2v1h-2zM149 138h2v1h-2zM154 138h2v1h-2zM159 138h2v1h-2zM164 138h2v1h-2zM169 138h2v1h-2zM174 138h2v1h-2zM179 138h3v1h-3zM184 138h2v1h-2zM189 138h2v1h-2zM194 138h2v1h-2zM199 138h2v1h-2zM204 138h2v1h-2zM207 138h1v1h-1zM209 138h2v1h-2zM214 138h2v1h-2zM219 138h2v1h-2zM224 138h2v1h-2zM229 138h2v1h-2zM232 138h1v1h-1zM234 138h2v1h-2zM239 138h2v1h-2zM244 138h2v1h-2zM249 138h2v1h-2zM254 138h2v1h-2zM258 138h3v1h-3zM264 138h2v1h-2zM269 138h2v1h-2zM274 138h2v1h-2zM279 138h2v1h-2zM284 138h2v1h-2zM289 138h2v1h-2zM294 138h2v1h-2zM299 138h2v1h-2zM304 138h2v1h-2zM309 138h2v1h-2zM314 138h2v1h-2zM319 138h2v1h-2zM324 138h2v1h-2zM329 138h2v1h-2zM334 138h2v1h-2zM339 138h2v1h-2zM344 138h2v1h-2zM349 138h2v1h-2zM354 138h2v1h-2zM359 138h3v1h-3zM364 138h2v1h-2zM369 138h2v1h-2zM374 138h2v1h-2zM379 138h2v1h-2zM384 138h3v1h-3zM389 138h2v1h-2zM394 138h2v1h-2zM399 138h2v1h-2zM404 138h2v1h-2zM409 138h2v1h-2zM412 138h1v1h-1zM414 138h2v1h-2zM419 138h2v1h-2zM424 138h2v1h-2zM429 138h2v1h-2zM434 138h2v1h-2zM437 138h1v1h-1zM439 138h2v1h-2zM444 138h2v1h-2zM449 138h2v1h-2zM454 138h2v1h-2zM459 138h2v1h-2zM608 138h2v1h-2zM130 142h1v1h-1zM155 142h1v1h-1zM181 142h1v1h-1zM207 142h1v1h-1zM232 142h1v1h-1zM258 142h1v1h-1zM284 142h1v1h-1zM309 142h1v1h-1zM335 142h1v1h-1zM361 142h1v1h-1zM386 142h1v1h-1zM412 142h1v1h-1zM437 142h1v1h-1zM130 143h1v1h-1zM155 143h1v1h-1zM181 143h1v1h-1zM207 143h1v1h-1zM232 143h1v1h-1zM258 143h1v1h-1zM284 143h1v1h-1zM309 143h1v1h-1zM335 143h1v1h-1zM361 143h1v1h-1zM386 143h1v1h-1zM412 143h1v1h-1zM437 143h1v1h-1zM130 147h1v1h-1zM155 147h1v1h-1zM181 147h1v1h-1zM207 147h1v1h-1zM232 147h1v1h-1zM258 147h1v1h-1zM284 147h1v1h-1zM309 147h1v1h-1zM335 147h1v1h-1zM361 147h1v1h-1zM386 147h1v1h-1zM412 147h1v1h-1zM437 147h1v1h-1zM130 148h1v1h-1zM155 148h1v1h-1zM181 148h1v1h-1zM207 148h1v1h-1zM232 148h1v1h-1zM258 148h1v1h-1zM284 148h1v1h-1zM309 148h1v1h-1zM335 148h1v1h-1zM361 148h1v1h-1zM386 148h1v1h-1zM412 148h1v1h-1zM437 148h1v1h-1zM130 152h1v1h-1zM155 152h1v1h-1zM181 152h1v1h-1zM207 152h1v1h-1zM232 152h1v1h-1zM258 152h1v1h-1zM284 152h1v1h-1zM309 152h1v1h-1zM335 152h1v1h-1zM361 152h1v1h-1zM386 152h1v1h-1zM412 152h1v1h-1zM437 152h1v1h-1zM130 153h1v1h-1zM155 153h1v1h-1zM181 153h1v1h-1zM207 153h1v1h-1zM232 153h1v1h-1zM258 153h1v1h-1zM284 153h1v1h-1zM309 153h1v1h-1zM335 153h1v1h-1zM361 153h1v1h-1zM386 153h1v1h-1zM412 153h1v1h-1zM437 153h1v1h-1zM463 154h1v1h-1zM489 154h1v1h-1zM514 154h1v1h-1zM540 154h1v1h-1zM566 154h1v1h-1zM591 154h1v1h-1zM463 155h1v1h-1zM489 155h1v1h-1zM514 155h1v1h-1zM540 155h1v1h-1zM566 155h1v1h-1zM591 155h1v1h-1zM130 157h1v1h-1zM155 157h1v1h-1zM181 157h1v1h-1zM207 157h1v1h-1zM232 157h1v1h-1zM258 157h1v1h-1zM284 157h1v1h-1zM309 157h1v1h-1zM335 157h1v1h-1zM361 157h1v1h-1zM386 157h1v1h-1zM412 157h1v1h-1zM437 157h1v1h-1zM130 158h1v1h-1zM155 158h1v1h-1zM181 158h1v1h-1zM207 158h1v1h-1zM232 158h1v1h-1zM258 158h1v1h-1zM284 158h1v1h-1zM309 158h1v1h-1zM335 158h1v1h-1zM361 158h1v1h-1zM386 158h1v1h-1zM412 158h1v1h-1zM437 158h1v1h-1zM463 159h1v1h-1zM489 159h1v1h-1zM514 159h1v1h-1zM540 159h1v1h-1zM566 159h1v1h-1zM591 159h1v1h-1zM463 160h1v1h-1zM489 160h1v1h-1zM514 160h1v1h-1zM540 160h1v1h-1zM566 160h1v1h-1zM591 160h1v1h-1zM130 162h1v1h-1zM155 162h1v1h-1zM181 162h1v1h-1zM207 162h1v1h-1zM232 162h1v1h-1zM258 162h1v1h-1zM284 162h1v1h-1zM309 162h1v1h-1zM335 162h1v1h-1zM361 162h1v1h-1zM386 162h1v1h-1zM412 162h1v1h-1zM437 162h1v1h-1zM130 163h1v1h-1zM155 163h1v1h-1zM181 163h1v1h-1zM207 163h1v1h-1zM232 163h1v1h-1zM258 163h1v1h-1zM284 163h1v1h-1zM309 163h1v1h-1zM335 163h1v1h-1zM361 163h1v1h-1zM386 163h1v1h-1zM412 163h1v1h-1zM437 163h1v1h-1zM463 164h1v1h-1zM489 164h1v1h-1zM514 164h1v1h-1zM540 164h1v1h-1zM566 164h1v1h-1zM591 164h1v1h-1zM463 165h1v1h-1zM489 165h1v1h-1zM514 165h1v1h-1zM540 165h1v1h-1zM566 165h1v1h-1zM591 165h1v1h-1zM130 167h1v1h-1zM155 167h1v1h-1zM181 167h1v1h-1zM207 167h1v1h-1zM232 167h1v1h-1zM258 167h1v1h-1zM284 167h1v1h-1zM309 167h1v1h-1zM335 167h1v1h-1zM361 167h1v1h-1zM386 167h1v1h-1zM412 167h1v1h-1zM437 167h1v1h-1zM130 168h1v1h-1zM155 168h1v1h-1zM181 168h1v1h-1zM207 168h1v1h-1zM232 168h1v1h-1zM258 168h1v1h-1zM284 168h1v1h-1zM309 168h1v1h-1zM335 168h1v1h-1zM361 168h1v1h-1zM386 168h1v1h-1zM412 168h1v1h-1zM437 168h1v1h-1zM463 169h1v1h-1zM489 169h1v1h-1zM514 169h1v1h-1zM540 169h1v1h-1zM566 169h1v1h-1zM591 169h1v1h-1zM463 170h1v1h-1zM489 170h1v1h-1zM514 170h1v1h-1zM540 170h1v1h-1zM566 170h1v1h-1zM591 170h1v1h-1zM130 172h1v1h-1zM155 172h1v1h-1zM181 172h1v1h-1zM207 172h1v1h-1zM232 172h1v1h-1zM258 172h1v1h-1zM284 172h1v1h-1zM309 172h1v1h-1zM335 172h1v1h-1zM361 172h1v1h-1zM386 172h1v1h-1zM412 172h1v1h-1zM437 172h1v1h-1zM130 173h1v1h-1zM155 173h1v1h-1zM181 173h1v1h-1zM207 173h1v1h-1zM232 173h1v1h-1zM258 173h1v1h-1zM284 173h1v1h-1zM309 173h1v1h-1zM335 173h1v1h-1zM361 173h1v1h-1zM386 173h1v1h-1zM412 173h1v1h-1zM437 173h1v1h-1zM463 174h1v1h-1zM489 174h1v1h-1zM514 174h1v1h-1zM540 174h1v1h-1zM566 174h1v1h-1zM591 174h1v1h-1zM463 175h1v1h-1zM489 175h1v1h-1zM514 175h1v1h-1zM540 175h1v1h-1zM566 175h1v1h-1zM591 175h1v1h-1zM130 177h1v1h-1zM155 177h1v1h-1zM181 177h1v1h-1zM207 177h1v1h-1zM232 177h1v1h-1zM258 177h1v1h-1zM284 177h1v1h-1zM309 177h1v1h-1zM335 177h1v1h-1zM361 177h1v1h-1zM386 177h1v1h-1zM412 177h1v1h-1zM437 177h1v1h-1zM109 178h2v1h-2zM114 178h2v1h-2zM119 178h2v1h-2zM124 178h2v1h-2zM129 178h2v1h-2zM134 178h2v1h-2zM139 178h2v1h-2zM144 178h2v1h-2zM149 178h2v1h-2zM154 178h2v1h-2zM159 178h2v1h-2zM164 178h2v1h-2zM169 178h2v1h-2zM174 178h2v1h-2zM179 178h3v1h-3zM184 178h2v1h-2zM189 178h2v1h-2zM194 178h2v1h-2zM199 178h2v1h-2zM204 178h2v1h-2zM207 178h1v1h-1zM209 178h2v1h-2zM214 178h2v1h-2zM219 178h2v1h-2zM224 178h2v1h-2zM229 178h2v1h-2zM232 178h1v1h-1zM234 178h2v1h-2zM239 178h2v1h-2zM244 178h2v1h-2zM249 178h2v1h-2zM254 178h2v1h-2zM258 178h3v1h-3zM264 178h2v1h-2zM269 178h2v1h-2zM274 178h2v1h-2zM279 178h2v1h-2zM284 178h2v1h-2zM289 178h2v1h-2zM294 178h2v1h-2zM299 178h2v1h-2zM304 178h2v1h-2zM309 178h2v1h-2zM314 178h2v1h-2zM319 178h2v1h-2zM324 178h2v1h-2zM329 178h2v1h-2zM334 178h2v1h-2zM339 178h2v1h-2zM344 178h2v1h-2zM349 178h2v1h-2zM354 178h2v1h-2zM359 178h3v1h-3zM364 178h2v1h-2zM369 178h2v1h-2zM374 178h2v1h-2zM379 178h2v1h-2zM384 178h3v1h-3zM389 178h2v1h-2zM394 178h2v1h-2zM399 178h2v1h-2zM404 178h2v1h-2zM409 178h2v1h-2zM412 178h1v1h-1zM414 178h2v1h-2zM419 178h2v1h-2zM424 178h2v1h-2zM429 178h2v1h-2zM434 178h2v1h-2zM437 178h1v1h-1zM439 178h2v1h-2zM444 178h2v1h-2zM449 178h2v1h-2zM454 178h2v1h-2zM459 178h2v1h-2zM464 178h2v1h-2zM469 178h2v1h-2zM474 178h2v1h-2zM479 178h2v1h-2zM484 178h2v1h-2zM489 178h2v1h-2zM494 178h2v1h-2zM499 178h2v1h-2zM504 178h2v1h-2zM509 178h2v1h-2zM514 178h2v1h-2zM519 178h2v1h-2zM524 178h2v1h-2zM529 178h2v1h-2zM534 178h2v1h-2zM539 178h2v1h-2zM544 178h2v1h-2zM549 178h2v1h-2zM554 178h2v1h-2zM559 178h2v1h-2zM564 178h2v1h-2zM569 178h2v1h-2zM574 178h2v1h-2zM579 178h2v1h-2zM584 178h2v1h-2zM589 178h2v1h-2zM594 178h2v1h-2zM599 178h2v1h-2zM604 178h2v1h-2zM609 178h2v1h-2zM463 179h1v1h-1zM489 179h1v1h-1zM514 179h1v1h-1zM540 179h1v1h-1zM566 179h1v1h-1zM591 179h1v1h-1zM463 180h1v1h-1zM489 180h1v1h-1zM514 180h1v1h-1zM540 180h1v1h-1zM566 180h1v1h-1zM591 180h1v1h-1zM130 182h1v1h-1zM155 182h1v1h-1zM181 182h1v1h-1zM207 182h1v1h-1zM232 182h1v1h-1zM258 182h1v1h-1zM284 182h1v1h-1zM309 182h1v1h-1zM335 182h1v1h-1zM361 182h1v1h-1zM386 182h1v1h-1zM412 182h1v1h-1zM437 182h1v1h-1zM130 183h1v1h-1zM155 183h1v1h-1zM181 183h1v1h-1zM207 183h1v1h-1zM232 183h1v1h-1zM258 183h1v1h-1zM284 183h1v1h-1zM309 183h1v1h-1zM335 183h1v1h-1zM361 183h1v1h-1zM386 183h1v1h-1zM412 183h1v1h-1zM437 183h1v1h-1zM463 184h1v1h-1zM489 184h1v1h-1zM514 184h1v1h-1zM540 184h1v1h-1zM566 184h1v1h-1zM591 184h1v1h-1zM463 185h1v1h-1zM489 185h1v1h-1zM514 185h1v1h-1zM540 185h1v1h-1zM566 185h1v1h-1zM591 185h1v1h-1zM130 187h1v1h-1zM155 187h1v1h-1zM181 187h1v1h-1zM207 187h1v1h-1zM232 187h1v1h-1zM258 187h1v1h-1zM284 187h1v1h-1zM309 187h1v1h-1zM335 187h1v1h-1zM361 187h1v1h-1zM386 187h1v1h-1zM412 187h1v1h-1zM437 187h1v1h-1zM130 188h1v1h-1zM155 188h1v1h-1zM181 188h1v1h-1zM207 188h1v1h-1zM232 188h1v1h-1zM258 188h1v1h-1zM284 188h1v1h-1zM309 188h1v1h-1zM335 188h1v1h-1zM361 188h1v1h-1zM386 188h1v1h-1zM412 188h1v1h-1zM437 188h1v1h-1zM463 189h1v1h-1zM489 189h1v1h-1zM514 189h1v1h-1zM540 189h1v1h-1zM566 189h1v1h-1zM591 189h1v1h-1zM463 190h1v1h-1zM489 190h1v1h-1zM514 190h1v1h-1zM540 190h1v1h-1zM566 190h1v1h-1zM591 190h1v1h-1zM130 192h1v1h-1zM155 192h1v1h-1zM181 192h1v1h-1zM207 192h1v1h-1zM232 192h1v1h-1zM258 192h1v1h-1zM284 192h1v1h-1zM309 192h1v1h-1zM335 192h1v1h-1zM361 192h1v1h-1zM386 192h1v1h-1zM412 192h1v1h-1zM437 192h1v1h-1zM130 193h1v1h-1zM155 193h1v1h-1zM181 193h1v1h-1zM207 193h1v1h-1zM232 193h1v1h-1zM258 193h1v1h-1zM284 193h1v1h-1zM309 193h1v1h-1zM335 193h1v1h-1zM361 193h1v1h-1zM386 193h1v1h-1zM412 193h1v1h-1zM437 193h1v1h-1zM463 194h1v1h-1zM489 194h1v1h-1zM514 194h1v1h-1zM540 194h1v1h-1zM566 194h1v1h-1zM591 194h1v1h-1zM463 195h1v1h-1zM489 195h1v1h-1zM514 195h1v1h-1zM540 195h1v1h-1zM566 195h1v1h-1zM591 195h1v1h-1zM130 197h1v1h-1zM155 197h1v1h-1zM181 197h1v1h-1zM207 197h1v1h-1zM232 197h1v1h-1zM258 197h1v1h-1zM284 197h1v1h-1zM309 197h1v1h-1zM335 197h1v1h-1zM361 197h1v1h-1zM386 197h1v1h-1zM412 197h1v1h-1zM437 197h1v1h-1zM130 198h1v1h-1zM155 198h1v1h-1zM181 198h1v1h-1zM207 198h1v1h-1zM232 198h1v1h-1zM258 198h1v1h-1zM284 198h1v1h-1zM309 198h1v1h-1zM335 198h1v1h-1zM361 198h1v1h-1zM386 198h1v1h-1zM412 198h1v1h-1zM437 198h1v1h-1zM463 199h1v1h-1zM489 199h1v1h-1zM514 199h1v1h-1zM540 199h1v1h-1zM566 199h1v1h-1zM591 199h1v1h-1zM463 200h1v1h-1zM489 200h1v1h-1zM514 200h1v1h-1zM540 200h1v1h-1zM566 200h1v1h-1zM591 200h1v1h-1zM155 202h1v1h-1zM181 202h1v1h-1zM207 202h1v1h-1zM232 202h1v1h-1zM258 202h1v1h-1zM284 202h1v1h-1zM309 202h1v1h-1zM335 202h1v1h-1zM361 202h1v1h-1zM386 202h1v1h-1zM412 202h1v1h-1zM437 202h1v1h-1zM155 203h1v1h-1zM181 203h1v1h-1zM207 203h1v1h-1zM232 203h1v1h-1zM258 203h1v1h-1zM284 203h1v1h-1zM309 203h1v1h-1zM335 203h1v1h-1zM361 203h1v1h-1zM386 203h1v1h-1zM412 203h1v1h-1zM437 203h1v1h-1zM463 204h1v1h-1zM489 204h1v1h-1zM514 204h1v1h-1zM540 204h1v1h-1zM566 204h1v1h-1zM591 204h1v1h-1zM463 205h1v1h-1zM489 205h1v1h-1zM514 205h1v1h-1zM540 205h1v1h-1zM566 205h1v1h-1zM591 205h1v1h-1zM130 207h1v1h-1zM155 207h1v1h-1zM181 207h1v1h-1zM207 207h1v1h-1zM232 207h1v1h-1zM258 207h1v1h-1zM284 207h1v1h-1zM309 207h1v1h-1zM335 207h1v1h-1zM361 207h1v1h-1zM386 207h1v1h-1zM412 207h1v1h-1zM437 207h1v1h-1zM130 208h1v1h-1zM155 208h1v1h-1zM181 208h1v1h-1zM207 208h1v1h-1zM232 208h1v1h-1zM258 208h1v1h-1zM284 208h1v1h-1zM309 208h1v1h-1zM335 208h1v1h-1zM361 208h1v1h-1zM386 208h1v1h-1zM412 208h1v1h-1zM437 208h1v1h-1zM463 209h1v1h-1zM489 209h1v1h-1zM514 209h1v1h-1zM540 209h1v1h-1zM566 209h1v1h-1zM591 209h1v1h-1zM463 210h1v1h-1zM489 210h1v1h-1zM514 210h1v1h-1zM540 210h1v1h-1zM566 210h1v1h-1zM591 210h1v1h-1zM130 212h1v1h-1zM155 212h1v1h-1zM181 212h1v1h-1zM207 212h1v1h-1zM232 212h1v1h-1zM258 212h1v1h-1zM284 212h1v1h-1zM309 212h1v1h-1zM335 212h1v1h-1zM361 212h1v1h-1zM386 212h1v1h-1zM412 212h1v1h-1zM437 212h1v1h-1zM130 213h1v1h-1zM155 213h1v1h-1zM181 213h1v1h-1zM207 213h1v1h-1zM232 213h1v1h-1zM258 213h1v1h-1zM284 213h1v1h-1zM309 213h1v1h-1zM335 213h1v1h-1zM361 213h1v1h-1zM386 213h1v1h-1zM412 213h1v1h-1zM437 213h1v1h-1zM463 214h1v1h-1zM489 214h1v1h-1zM514 214h1v1h-1zM540 214h1v1h-1zM566 214h1v1h-1zM591 214h1v1h-1zM463 215h1v1h-1zM489 215h1v1h-1zM514 215h1v1h-1zM540 215h1v1h-1zM566 215h1v1h-1zM591 215h1v1h-1zM130 217h1v1h-1zM155 217h1v1h-1zM181 217h1v1h-1zM207 217h1v1h-1zM232 217h1v1h-1zM258 217h1v1h-1zM284 217h1v1h-1zM309 217h1v1h-1zM335 217h1v1h-1zM361 217h1v1h-1zM386 217h1v1h-1zM412 217h1v1h-1zM437 217h1v1h-1zM109 218h2v1h-2zM114 218h2v1h-2zM119 218h2v1h-2zM124 218h2v1h-2zM129 218h2v1h-2zM134 218h2v1h-2zM139 218h2v1h-2zM144 218h2v1h-2zM149 218h2v1h-2zM154 218h2v1h-2zM159 218h2v1h-2zM164 218h2v1h-2zM169 218h2v1h-2zM174 218h2v1h-2zM179 218h3v1h-3zM184 218h2v1h-2zM189 218h2v1h-2zM194 218h2v1h-2zM199 218h2v1h-2zM204 218h2v1h-2zM207 218h1v1h-1zM209 218h2v1h-2zM214 218h2v1h-2zM219 218h2v1h-2zM224 218h2v1h-2zM229 218h2v1h-2zM232 218h1v1h-1zM234 218h2v1h-2zM239 218h2v1h-2zM244 218h2v1h-2zM249 218h2v1h-2zM254 218h2v1h-2zM258 218h3v1h-3zM264 218h2v1h-2zM269 218h2v1h-2zM274 218h2v1h-2zM279 218h2v1h-2zM284 218h2v1h-2zM289 218h2v1h-2zM294 218h2v1h-2zM299 218h2v1h-2zM304 218h2v1h-2zM309 218h2v1h-2zM314 218h2v1h-2zM319 218h2v1h-2zM324 218h2v1h-2zM329 218h2v1h-2zM334 218h2v1h-2zM339 218h2v1h-2zM344 218h2v1h-2zM349 218h2v1h-2zM354 218h2v1h-2zM359 218h3v1h-3zM364 218h2v1h-2zM369 218h2v1h-2zM374 218h2v1h-2zM379 218h2v1h-2zM384 218h3v1h-3zM389 218h2v1h-2zM394 218h2v1h-2zM399 218h2v1h-2zM404 218h2v1h-2zM409 218h2v1h-2zM412 218h1v1h-1zM414 218h2v1h-2zM419 218h2v1h-2zM424 218h2v1h-2zM429 218h2v1h-2zM434 218h2v1h-2zM437 218h1v1h-1zM439 218h2v1h-2zM444 218h2v1h-2zM449 218h2v1h-2zM454 218h2v1h-2zM459 218h2v1h-2zM464 218h2v1h-2zM469 218h2v1h-2zM474 218h2v1h-2zM479 218h2v1h-2zM484 218h2v1h-2zM489 218h2v1h-2zM494 218h2v1h-2zM499 218h2v1h-2zM504 218h2v1h-2zM509 218h2v1h-2zM514 218h2v1h-2zM519 218h2v1h-2zM524 218h2v1h-2zM529 218h2v1h-2zM534 218h2v1h-2zM539 218h2v1h-2zM544 218h2v1h-2zM549 218h2v1h-2zM554 218h2v1h-2zM559 218h2v1h-2zM564 218h2v1h-2zM569 218h2v1h-2zM574 218h2v1h-2zM579 218h2v1h-2zM584 218h2v1h-2zM589 218h2v1h-2zM594 218h2v1h-2zM599 218h2v1h-2zM604 218h2v1h-2zM609 218h2v1h-2zM463 219h1v1h-1zM489 219h1v1h-1zM514 219h1v1h-1zM540 219h1v1h-1zM566 219h1v1h-1zM591 219h1v1h-1zM463 220h1v1h-1zM489 220h1v1h-1zM514 220h1v1h-1zM540 220h1v1h-1zM566 220h1v1h-1zM591 220h1v1h-1zM130 222h1v1h-1zM155 222h1v1h-1zM181 222h1v1h-1zM207 222h1v1h-1zM232 222h1v1h-1zM258 222h1v1h-1zM284 222h1v1h-1zM309 222h1v1h-1zM335 222h1v1h-1zM361 222h1v1h-1zM386 222h1v1h-1zM412 222h1v1h-1zM437 222h1v1h-1zM130 223h1v1h-1zM155 223h1v1h-1zM181 223h1v1h-1zM207 223h1v1h-1zM232 223h1v1h-1zM258 223h1v1h-1zM284 223h1v1h-1zM309 223h1v1h-1zM335 223h1v1h-1zM361 223h1v1h-1zM386 223h1v1h-1zM412 223h1v1h-1zM437 223h1v1h-1zM463 224h1v1h-1zM489 224h1v1h-1zM514 224h1v1h-1zM540 224h1v1h-1zM566 224h1v1h-1zM591 224h1v1h-1zM463 225h1v1h-1zM489 225h1v1h-1zM514 225h1v1h-1zM540 225h1v1h-1zM566 225h1v1h-1zM591 225h1v1h-1zM130 227h1v1h-1zM155 227h1v1h-1zM181 227h1v1h-1zM207 227h1v1h-1zM232 227h1v1h-1zM258 227h1v1h-1zM284 227h1v1h-1zM309 227h1v1h-1zM335 227h1v1h-1zM361 227h1v1h-1zM386 227h1v1h-1zM412 227h1v1h-1zM437 227h1v1h-1zM130 228h1v1h-1zM155 228h1v1h-1zM181 228h1v1h-1zM207 228h1v1h-1zM232 228h1v1h-1zM258 228h1v1h-1zM284 228h1v1h-1zM309 228h1v1h-1zM335 228h1v1h-1zM361 228h1v1h-1zM386 228h1v1h-1zM412 228h1v1h-1zM437 228h1v1h-1zM463 229h1v1h-1zM489 229h1v1h-1zM514 229h1v1h-1zM540 229h1v1h-1zM566 229h1v1h-1zM591 229h1v1h-1zM463 230h1v1h-1zM489 230h1v1h-1zM514 230h1v1h-1zM540 230h1v1h-1zM566 230h1v1h-1zM591 230h1v1h-1zM130 232h1v1h-1zM155 232h1v1h-1zM181 232h1v1h-1zM207 232h1v1h-1zM232 232h1v1h-1zM258 232h1v1h-1zM284 232h1v1h-1zM309 232h1v1h-1zM335 232h1v1h-1zM361 232h1v1h-1zM386 232h1v1h-1zM412 232h1v1h-1zM437 232h1v1h-1zM130 233h1v1h-1zM155 233h1v1h-1zM181 233h1v1h-1zM207 233h1v1h-1zM232 233h1v1h-1zM258 233h1v1h-1zM284 233h1v1h-1zM309 233h1v1h-1zM335 233h1v1h-1zM361 233h1v1h-1zM386 233h1v1h-1zM412 233h1v1h-1zM437 233h1v1h-1zM463 234h1v1h-1zM489 234h1v1h-1zM514 234h1v1h-1zM540 234h1v1h-1zM566 234h1v1h-1zM591 234h1v1h-1zM463 235h1v1h-1zM489 235h1v1h-1zM514 235h1v1h-1zM540 235h1v1h-1zM566 235h1v1h-1zM591 235h1v1h-1zM130 237h1v1h-1zM155 237h1v1h-1zM181 237h1v1h-1zM207 237h1v1h-1zM232 237h1v1h-1zM258 237h1v1h-1zM284 237h1v1h-1zM309 237h1v1h-1zM335 237h1v1h-1zM361 237h1v1h-1zM386 237h1v1h-1zM412 237h1v1h-1zM437 237h1v1h-1zM130 238h1v1h-1zM155 238h1v1h-1zM181 238h1v1h-1zM207 238h1v1h-1zM232 238h1v1h-1zM258 238h1v1h-1zM284 238h1v1h-1zM309 238h1v1h-1zM335 238h1v1h-1zM361 238h1v1h-1zM386 238h1v1h-1zM412 238h1v1h-1zM437 238h1v1h-1zM463 239h1v1h-1zM489 239h1v1h-1zM514 239h1v1h-1zM540 239h1v1h-1zM566 239h1v1h-1zM591 239h1v1h-1zM463 240h1v1h-1zM489 240h1v1h-1zM514 240h1v1h-1zM540 240h1v1h-1zM566 240h1v1h-1zM591 240h1v1h-1zM130 242h1v1h-1zM155 242h1v1h-1zM181 242h1v1h-1zM207 242h1v1h-1zM232 242h1v1h-1zM258 242h1v1h-1zM284 242h1v1h-1zM309 242h1v1h-1zM335 242h1v1h-1zM361 242h1v1h-1zM386 242h1v1h-1zM412 242h1v1h-1zM437 242h1v1h-1zM130 243h1v1h-1zM155 243h1v1h-1zM181 243h1v1h-1zM207 243h1v1h-1zM232 243h1v1h-1zM258 243h1v1h-1zM284 243h1v1h-1zM309 243h1v1h-1zM335 243h1v1h-1zM361 243h1v1h-1zM386 243h1v1h-1zM412 243h1v1h-1zM437 243h1v1h-1zM463 244h1v1h-1zM489 244h1v1h-1zM514 244h1v1h-1zM540 244h1v1h-1zM566 244h1v1h-1zM591 244h1v1h-1zM463 245h1v1h-1zM489 245h1v1h-1zM514 245h1v1h-1zM540 245h1v1h-1zM566 245h1v1h-1zM591 245h1v1h-1zM130 247h1v1h-1zM155 247h1v1h-1zM181 247h1v1h-1zM207 247h1v1h-1zM232 247h1v1h-1zM258 247h1v1h-1zM284 247h1v1h-1zM309 247h1v1h-1zM335 247h1v1h-1zM361 247h1v1h-1zM386 247h1v1h-1zM412 247h1v1h-1zM437 247h1v1h-1zM130 248h1v1h-1zM155 248h1v1h-1zM181 248h1v1h-1zM207 248h1v1h-1zM232 248h1v1h-1zM258 248h1v1h-1zM284 248h1v1h-1zM309 248h1v1h-1zM335 248h1v1h-1zM361 248h1v1h-1zM386 248h1v1h-1zM412 248h1v1h-1zM437 248h1v1h-1zM463 249h1v1h-1zM489 249h1v1h-1zM514 249h1v1h-1zM540 249h1v1h-1zM566 249h1v1h-1zM591 249h1v1h-1zM463 250h1v1h-1zM489 250h1v1h-1zM514 250h1v1h-1zM540 250h1v1h-1zM566 250h1v1h-1zM591 250h1v1h-1zM130 252h1v1h-1zM181 252h1v1h-1zM207 252h1v1h-1zM232 252h1v1h-1zM258 252h1v1h-1zM284 252h1v1h-1zM309 252h1v1h-1zM335 252h1v1h-1zM361 252h1v1h-1zM386 252h1v1h-1zM412 252h1v1h-1zM437 252h1v1h-1zM130 253h1v1h-1zM181 253h1v1h-1zM207 253h1v1h-1zM232 253h1v1h-1zM258 253h1v1h-1zM284 253h1v1h-1zM309 253h1v1h-1zM335 253h1v1h-1zM361 253h1v1h-1zM386 253h1v1h-1zM412 253h1v1h-1zM437 253h1v1h-1zM463 254h1v1h-1zM489 254h1v1h-1zM514 254h1v1h-1zM540 254h1v1h-1zM566 254h1v1h-1zM591 254h1v1h-1zM463 255h1v1h-1zM489 255h1v1h-1zM514 255h1v1h-1zM540 255h1v1h-1zM566 255h1v1h-1zM591 255h1v1h-1zM130 257h1v1h-1zM155 257h1v1h-1zM181 257h1v1h-1zM207 257h1v1h-1zM232 257h1v1h-1zM258 257h1v1h-1zM284 257h1v1h-1zM309 257h1v1h-1zM335 257h1v1h-1zM361 257h1v1h-1zM386 257h1v1h-1zM412 257h1v1h-1zM437 257h1v1h-1zM109 258h2v1h-2zM114 258h2v1h-2zM119 258h2v1h-2zM124 258h2v1h-2zM129 258h2v1h-2zM134 258h2v1h-2zM139 258h2v1h-2zM144 258h2v1h-2zM149 258h2v1h-2zM154 258h2v1h-2zM159 258h2v1h-2zM164 258h2v1h-2zM169 258h2v1h-2zM174 258h2v1h-2zM179 258h3v1h-3zM184 258h2v1h-2zM189 258h2v1h-2zM194 258h2v1h-2zM199 258h2v1h-2zM204 258h2v1h-2zM207 258h1v1h-1zM209 258h2v1h-2zM214 258h2v1h-2zM219 258h2v1h-2zM224 258h2v1h-2zM229 258h2v1h-2zM232 258h1v1h-1zM234 258h2v1h-2zM239 258h2v1h-2zM244 258h2v1h-2zM249 258h2v1h-2zM254 258h2v1h-2zM258 258h3v1h-3zM264 258h2v1h-2zM269 258h2v1h-2zM274 258h2v1h-2zM279 258h2v1h-2zM284 258h2v1h-2zM289 258h2v1h-2zM294 258h2v1h-2zM299 258h2v1h-2zM304 258h2v1h-2zM309 258h2v1h-2zM314 258h2v1h-2zM319 258h2v1h-2zM324 258h2v1h-2zM329 258h2v1h-2zM334 258h2v1h-2zM339 258h2v1h-2zM344 258h2v1h-2zM349 258h2v1h-2zM354 258h2v1h-2zM359 258h3v1h-3zM364 258h2v1h-2zM369 258h2v1h-2zM374 258h2v1h-2zM379 258h2v1h-2zM384 258h3v1h-3zM389 258h2v1h-2zM394 258h2v1h-2zM399 258h2v1h-2zM404 258h2v1h-2zM409 258h2v1h-2zM412 258h1v1h-1zM414 258h2v1h-2zM419 258h2v1h-2zM424 258h2v1h-2zM429 258h2v1h-2zM434 258h2v1h-2zM437 258h1v1h-1zM439 258h2v1h-2zM444 258h2v1h-2zM449 258h2v1h-2zM454 258h2v1h-2zM459 258h2v1h-2zM464 258h2v1h-2zM469 258h2v1h-2zM474 258h2v1h-2zM479 258h2v1h-2zM484 258h2v1h-2zM489 258h2v1h-2zM494 258h2v1h-2zM499 258h2v1h-2zM504 258h2v1h-2zM509 258h2v1h-2zM514 258h2v1h-2zM519 258h2v1h-2zM524 258h2v1h-2zM529 258h2v1h-2zM534 258h2v1h-2zM539 258h2v1h-2zM544 258h2v1h-2zM549 258h2v1h-2zM554 258h2v1h-2zM559 258h2v1h-2zM564 258h2v1h-2zM569 258h2v1h-2zM574 258h2v1h-2zM579 258h2v1h-2zM584 258h2v1h-2zM589 258h2v1h-2zM594 258h2v1h-2zM599 258h2v1h-2zM604 258h2v1h-2zM609 258h2v1h-2zM463 259h1v1h-1zM489 259h1v1h-1zM514 259h1v1h-1zM540 259h1v1h-1zM566 259h1v1h-1zM591 259h1v1h-1zM463 260h1v1h-1zM489 260h1v1h-1zM514 260h1v1h-1zM540 260h1v1h-1zM566 260h1v1h-1zM591 260h1v1h-1zM130 262h1v1h-1zM155 262h1v1h-1zM181 262h1v1h-1zM207 262h1v1h-1zM232 262h1v1h-1zM258 262h1v1h-1zM284 262h1v1h-1zM309 262h1v1h-1zM335 262h1v1h-1zM361 262h1v1h-1zM386 262h1v1h-1zM412 262h1v1h-1zM437 262h1v1h-1zM130 263h1v1h-1zM155 263h1v1h-1zM181 263h1v1h-1zM207 263h1v1h-1zM232 263h1v1h-1zM258 263h1v1h-1zM284 263h1v1h-1zM309 263h1v1h-1zM335 263h1v1h-1zM361 263h1v1h-1zM386 263h1v1h-1zM412 263h1v1h-1zM437 263h1v1h-1zM463 264h1v1h-1zM489 264h1v1h-1zM514 264h1v1h-1zM540 264h1v1h-1zM566 264h1v1h-1zM591 264h1v1h-1zM463 265h1v1h-1zM489 265h1v1h-1zM514 265h1v1h-1zM540 265h1v1h-1zM566 265h1v1h-1zM591 265h1v1h-1zM130 267h1v1h-1zM155 267h1v1h-1zM181 267h1v1h-1zM207 267h1v1h-1zM232 267h1v1h-1zM258 267h1v1h-1zM284 267h1v1h-1zM309 267h1v1h-1zM335 267h1v1h-1zM361 267h1v1h-1zM386 267h1v1h-1zM412 267h1v1h-1zM437 267h1v1h-1zM130 268h1v1h-1zM155 268h1v1h-1zM181 268h1v1h-1zM207 268h1v1h-1zM232 268h1v1h-1zM258 268h1v1h-1zM284 268h1v1h-1zM309 268h1v1h-1zM335 268h1v1h-1zM361 268h1v1h-1zM386 268h1v1h-1zM412 268h1v1h-1zM437 268h1v1h-1zM463 269h1v1h-1zM489 269h1v1h-1zM514 269h1v1h-1zM540 269h1v1h-1zM566 269h1v1h-1zM591 269h1v1h-1zM463 270h1v1h-1zM489 270h1v1h-1zM514 270h1v1h-1zM540 270h1v1h-1zM566 270h1v1h-1zM591 270h1v1h-1zM130 272h1v1h-1zM155 272h1v1h-1zM181 272h1v1h-1zM207 272h1v1h-1zM232 272h1v1h-1zM258 272h1v1h-1zM284 272h1v1h-1zM309 272h1v1h-1zM335 272h1v1h-1zM361 272h1v1h-1zM386 272h1v1h-1zM412 272h1v1h-1zM437 272h1v1h-1zM130 273h1v1h-1zM155 273h1v1h-1zM181 273h1v1h-1zM207 273h1v1h-1zM232 273h1v1h-1zM258 273h1v1h-1zM284 273h1v1h-1zM309 273h1v1h-1zM335 273h1v1h-1zM361 273h1v1h-1zM386 273h1v1h-1zM412 273h1v1h-1zM437 273h1v1h-1zM463 274h1v1h-1zM489 274h1v1h-1zM514 274h1v1h-1zM540 274h1v1h-1zM566 274h1v1h-1zM591 274h1v1h-1zM463 275h1v1h-1zM489 275h1v1h-1zM514 275h1v1h-1zM540 275h1v1h-1zM566 275h1v1h-1zM591 275h1v1h-1zM130 277h1v1h-1zM155 277h1v1h-1zM181 277h1v1h-1zM207 277h1v1h-1zM232 277h1v1h-1zM258 277h1v1h-1zM284 277h1v1h-1zM309 277h1v1h-1zM335 277h1v1h-1zM361 277h1v1h-1zM386 277h1v1h-1zM412 277h1v1h-1zM437 277h1v1h-1zM130 278h1v1h-1zM155 278h1v1h-1zM181 278h1v1h-1zM207 278h1v1h-1zM232 278h1v1h-1zM258 278h1v1h-1zM284 278h1v1h-1zM309 278h1v1h-1zM335 278h1v1h-1zM361 278h1v1h-1zM386 278h1v1h-1zM412 278h1v1h-1zM437 278h1v1h-1zM463 279h1v1h-1zM489 279h1v1h-1zM514 279h1v1h-1zM540 279h1v1h-1zM566 279h1v1h-1zM591 279h1v1h-1zM463 280h1v1h-1zM489 280h1v1h-1zM514 280h1v1h-1zM540 280h1v1h-1zM566 280h1v1h-1zM591 280h1v1h-1zM130 282h1v1h-1zM155 282h1v1h-1zM181 282h1v1h-1zM207 282h1v1h-1zM232 282h1v1h-1zM258 282h1v1h-1zM284 282h1v1h-1zM309 282h1v1h-1zM335 282h1v1h-1zM361 282h1v1h-1zM386 282h1v1h-1zM412 282h1v1h-1zM437 282h1v1h-1zM130 283h1v1h-1zM155 283h1v1h-1zM181 283h1v1h-1zM207 283h1v1h-1zM232 283h1v1h-1zM258 283h1v1h-1zM284 283h1v1h-1zM309 283h1v1h-1zM335 283h1v1h-1zM361 283h1v1h-1zM386 283h1v1h-1zM412 283h1v1h-1zM437 283h1v1h-1zM463 284h1v1h-1zM489 284h1v1h-1zM514 284h1v1h-1zM540 284h1v1h-1zM566 284h1v1h-1zM591 284h1v1h-1zM463 285h1v1h-1zM489 285h1v1h-1zM514 285h1v1h-1zM540 285h1v1h-1zM566 285h1v1h-1zM591 285h1v1h-1zM130 287h1v1h-1zM155 287h1v1h-1zM181 287h1v1h-1zM207 287h1v1h-1zM232 287h1v1h-1zM258 287h1v1h-1zM284 287h1v1h-1zM309 287h1v1h-1zM335 287h1v1h-1zM361 287h1v1h-1zM386 287h1v1h-1zM412 287h1v1h-1zM437 287h1v1h-1zM130 288h1v1h-1zM155 288h1v1h-1zM181 288h1v1h-1zM207 288h1v1h-1zM232 288h1v1h-1zM258 288h1v1h-1zM284 288h1v1h-1zM309 288h1v1h-1zM335 288h1v1h-1zM361 288h1v1h-1zM386 288h1v1h-1zM412 288h1v1h-1zM437 288h1v1h-1zM463 289h1v1h-1zM489 289h1v1h-1zM514 289h1v1h-1zM540 289h1v1h-1zM566 289h1v1h-1zM591 289h1v1h-1zM463 290h1v1h-1zM489 290h1v1h-1zM514 290h1v1h-1zM540 290h1v1h-1zM566 290h1v1h-1zM591 290h1v1h-1zM130 292h1v1h-1zM155 292h1v1h-1zM181 292h1v1h-1zM207 292h1v1h-1zM232 292h1v1h-1zM258 292h1v1h-1zM284 292h1v1h-1zM309 292h1v1h-1zM335 292h1v1h-1zM361 292h1v1h-1zM386 292h1v1h-1zM412 292h1v1h-1zM437 292h1v1h-1zM130 293h1v1h-1zM155 293h1v1h-1zM181 293h1v1h-1zM207 293h1v1h-1zM232 293h1v1h-1zM258 293h1v1h-1zM284 293h1v1h-1zM309 293h1v1h-1zM335 293h1v1h-1zM361 293h1v1h-1zM386 293h1v1h-1zM412 293h1v1h-1zM437 293h1v1h-1zM463 294h1v1h-1zM489 294h1v1h-1zM514 294h1v1h-1zM540 294h1v1h-1zM566 294h1v1h-1zM591 294h1v1h-1zM463 295h1v1h-1zM489 295h1v1h-1zM514 295h1v1h-1zM540 295h1v1h-1zM566 295h1v1h-1zM591 295h1v1h-1zM130 297h1v1h-1zM155 297h1v1h-1zM181 297h1v1h-1zM232 297h1v1h-1zM258 297h1v1h-1zM284 297h1v1h-1zM309 297h1v1h-1zM335 297h1v1h-1zM361 297h1v1h-1zM386 297h1v1h-1zM412 297h1v1h-1zM437 297h1v1h-1zM109 298h2v1h-2zM114 298h2v1h-2zM119 298h2v1h-2zM124 298h2v1h-2zM129 298h2v1h-2zM134 298h2v1h-2zM139 298h2v1h-2zM144 298h2v1h-2zM149 298h2v1h-2zM154 298h2v1h-2zM159 298h2v1h-2zM164 298h2v1h-2zM169 298h2v1h-2zM174 298h2v1h-2zM179 298h3v1h-3zM184 298h2v1h-2zM189 298h2v1h-2zM194 298h2v1h-2zM199 298h2v1h-2zM204 298h1v1h-1zM210 298h1v1h-1zM214 298h2v1h-2zM219 298h2v1h-2zM224 298h2v1h-2zM229 298h2v1h-2zM232 298h1v1h-1zM234 298h2v1h-2zM239 298h2v1h-2zM244 298h2v1h-2zM249 298h2v1h-2zM254 298h2v1h-2zM258 298h3v1h-3zM264 298h2v1h-2zM269 298h2v1h-2zM274 298h2v1h-2zM279 298h2v1h-2zM284 298h2v1h-2zM289 298h2v1h-2zM294 298h2v1h-2zM299 298h2v1h-2zM304 298h2v1h-2zM309 298h2v1h-2zM314 298h2v1h-2zM319 298h2v1h-2zM324 298h2v1h-2zM329 298h2v1h-2zM334 298h2v1h-2zM339 298h2v1h-2zM344 298h2v1h-2zM349 298h2v1h-2zM354 298h2v1h-2zM359 298h3v1h-3zM364 298h2v1h-2zM369 298h2v1h-2zM374 298h2v1h-2zM379 298h2v1h-2zM384 298h3v1h-3zM389 298h2v1h-2zM394 298h2v1h-2zM399 298h2v1h-2zM404 298h2v1h-2zM409 298h2v1h-2zM412 298h1v1h-1zM414 298h2v1h-2zM419 298h2v1h-2zM424 298h2v1h-2zM429 298h2v1h-2zM434 298h2v1h-2zM437 298h1v1h-1zM439 298h2v1h-2zM444 298h2v1h-2zM449 298h2v1h-2zM454 298h2v1h-2zM459 298h2v1h-2zM464 298h2v1h-2zM469 298h2v1h-2zM474 298h2v1h-2zM479 298h2v1h-2zM484 298h2v1h-2zM489 298h2v1h-2zM494 298h2v1h-2zM499 298h2v1h-2zM504 298h2v1h-2zM509 298h2v1h-2zM514 298h2v1h-2zM519 298h2v1h-2zM524 298h2v1h-2zM529 298h2v1h-2zM534 298h2v1h-2zM539 298h2v1h-2zM544 298h2v1h-2zM549 298h2v1h-2zM554 298h2v1h-2zM559 298h2v1h-2zM564 298h2v1h-2zM569 298h2v1h-2zM574 298h2v1h-2zM579 298h2v1h-2zM584 298h2v1h-2zM589 298h2v1h-2zM594 298h2v1h-2zM599 298h2v1h-2zM604 298h2v1h-2zM609 298h2v1h-2zM463 299h1v1h-1zM489 299h1v1h-1zM514 299h1v1h-1zM540 299h1v1h-1zM566 299h1v1h-1zM591 299h1v1h-1zM463 300h1v1h-1zM489 300h1v1h-1zM514 300h1v1h-1zM540 300h1v1h-1zM566 300h1v1h-1zM591 300h1v1h-1zM155 302h1v1h-1zM181 302h1v1h-1zM207 302h1v1h-1zM232 302h1v1h-1zM258 302h1v1h-1zM284 302h1v1h-1zM309 302h1v1h-1zM335 302h1v1h-1zM361 302h1v1h-1zM386 302h1v1h-1zM412 302h1v1h-1zM437 302h1v1h-1zM155 303h1v1h-1zM181 303h1v1h-1zM207 303h1v1h-1zM232 303h1v1h-1zM258 303h1v1h-1zM284 303h1v1h-1zM309 303h1v1h-1zM335 303h1v1h-1zM361 303h1v1h-1zM386 303h1v1h-1zM412 303h1v1h-1zM437 303h1v1h-1zM463 304h1v1h-1zM489 304h1v1h-1zM514 304h1v1h-1zM540 304h1v1h-1zM566 304h1v1h-1zM591 304h1v1h-1zM463 305h1v1h-1zM489 305h1v1h-1zM514 305h1v1h-1zM540 305h1v1h-1zM566 305h1v1h-1zM591 305h1v1h-1zM155 307h1v1h-1zM181 307h1v1h-1zM207 307h1v1h-1zM232 307h1v1h-1zM258 307h1v1h-1zM284 307h1v1h-1zM309 307h1v1h-1zM335 307h1v1h-1zM361 307h1v1h-1zM386 307h1v1h-1zM412 307h1v1h-1zM437 307h1v1h-1zM155 308h1v1h-1zM181 308h1v1h-1zM207 308h1v1h-1zM232 308h1v1h-1zM258 308h1v1h-1zM284 308h1v1h-1zM309 308h1v1h-1zM335 308h1v1h-1zM361 308h1v1h-1zM386 308h1v1h-1zM412 308h1v1h-1zM437 308h1v1h-1zM463 309h1v1h-1zM489 309h1v1h-1zM514 309h1v1h-1zM540 309h1v1h-1zM566 309h1v1h-1zM591 309h1v1h-1zM463 310h1v1h-1zM489 310h1v1h-1zM514 310h1v1h-1zM540 310h1v1h-1zM566 310h1v1h-1zM591 310h1v1h-1zM130 312h1v1h-1zM155 312h1v1h-1zM181 312h1v1h-1zM207 312h1v1h-1zM232 312h1v1h-1zM258 312h1v1h-1zM284 312h1v1h-1zM309 312h1v1h-1zM335 312h1v1h-1zM361 312h1v1h-1zM386 312h1v1h-1zM412 312h1v1h-1zM437 312h1v1h-1zM130 313h1v1h-1zM155 313h1v1h-1zM181 313h1v1h-1zM207 313h1v1h-1zM232 313h1v1h-1zM258 313h1v1h-1zM284 313h1v1h-1zM309 313h1v1h-1zM335 313h1v1h-1zM361 313h1v1h-1zM386 313h1v1h-1zM412 313h1v1h-1zM437 313h1v1h-1zM463 314h1v1h-1zM489 314h1v1h-1zM514 314h1v1h-1zM540 314h1v1h-1zM566 314h1v1h-1zM591 314h1v1h-1zM463 315h1v1h-1zM489 315h1v1h-1zM514 315h1v1h-1zM540 315h1v1h-1zM566 315h1v1h-1zM591 315h1v1h-1zM130 317h1v1h-1zM155 317h1v1h-1zM181 317h1v1h-1zM207 317h1v1h-1zM232 317h1v1h-1zM258 317h1v1h-1zM284 317h1v1h-1zM309 317h1v1h-1zM335 317h1v1h-1zM361 317h1v1h-1zM386 317h1v1h-1zM412 317h1v1h-1zM437 317h1v1h-1zM130 318h1v1h-1zM155 318h1v1h-1zM181 318h1v1h-1zM207 318h1v1h-1zM232 318h1v1h-1zM258 318h1v1h-1zM284 318h1v1h-1zM309 318h1v1h-1zM335 318h1v1h-1zM361 318h1v1h-1zM386 318h1v1h-1zM412 318h1v1h-1zM437 318h1v1h-1zM463 319h1v1h-1zM489 319h1v1h-1zM514 319h1v1h-1zM540 319h1v1h-1zM566 319h1v1h-1zM591 319h1v1h-1zM463 320h1v1h-1zM489 320h1v1h-1zM514 320h1v1h-1zM540 320h1v1h-1zM566 320h1v1h-1zM591 320h1v1h-1zM130 322h1v1h-1zM155 322h1v1h-1zM181 322h1v1h-1zM207 322h1v1h-1zM232 322h1v1h-1zM258 322h1v1h-1zM284 322h1v1h-1zM309 322h1v1h-1zM335 322h1v1h-1zM361 322h1v1h-1zM386 322h1v1h-1zM412 322h1v1h-1zM437 322h1v1h-1zM130 323h1v1h-1zM155 323h1v1h-1zM181 323h1v1h-1zM207 323h1v1h-1zM232 323h1v1h-1zM258 323h1v1h-1zM309 323h1v1h-1zM335 323h1v1h-1zM361 323h1v1h-1zM386 323h1v1h-1zM412 323h1v1h-1zM437 323h1v1h-1zM463 324h1v1h-1zM489 324h1v1h-1zM514 324h1v1h-1zM540 324h1v1h-1zM566 324h1v1h-1zM591 324h1v1h-1zM463 325h1v1h-1zM489 325h1v1h-1zM514 325h1v1h-1zM540 325h1v1h-1zM566 325h1v1h-1zM591 325h1v1h-1zM130 327h1v1h-1zM181 327h1v1h-1zM207 327h1v1h-1zM232 327h1v1h-1zM258 327h1v1h-1zM284 327h1v1h-1zM309 327h1v1h-1zM335 327h1v1h-1zM361 327h1v1h-1zM386 327h1v1h-1zM412 327h1v1h-1zM437 327h1v1h-1zM130 328h1v1h-1zM155 328h1v1h-1zM181 328h1v1h-1zM207 328h1v1h-1zM232 328h1v1h-1zM258 328h1v1h-1zM284 328h1v1h-1zM335 328h1v1h-1zM361 328h1v1h-1zM386 328h1v1h-1zM412 328h1v1h-1zM437 328h1v1h-1zM463 329h1v1h-1zM489 329h1v1h-1zM514 329h1v1h-1zM540 329h1v1h-1zM566 329h1v1h-1zM591 329h1v1h-1zM463 330h1v1h-1zM489 330h1v1h-1zM514 330h1v1h-1zM540 330h1v1h-1zM566 330h1v1h-1zM591 330h1v1h-1zM130 332h1v1h-1zM181 332h1v1h-1zM207 332h1v1h-1zM232 332h1v1h-1zM258 332h1v1h-1zM284 332h1v1h-1zM335 332h1v1h-1zM361 332h1v1h-1zM386 332h1v1h-1zM412 332h1v1h-1zM437 332h1v1h-1zM130 333h1v1h-1zM155 333h1v1h-1zM181 333h1v1h-1zM207 333h1v1h-1zM232 333h1v1h-1zM258 333h1v1h-1zM284 333h1v1h-1zM335 333h1v1h-1zM361 333h1v1h-1zM386 333h1v1h-1zM412 333h1v1h-1zM437 333h1v1h-1zM463 334h1v1h-1zM489 334h1v1h-1zM514 334h1v1h-1zM540 334h1v1h-1zM566 334h1v1h-1zM591 334h1v1h-1zM463 335h1v1h-1zM489 335h1v1h-1zM514 335h1v1h-1zM540 335h1v1h-1zM566 335h1v1h-1zM591 335h1v1h-1zM130 337h1v1h-1zM155 337h1v1h-1zM181 337h1v1h-1zM207 337h1v1h-1zM232 337h1v1h-1zM258 337h1v1h-1zM284 337h1v1h-1zM309 337h1v1h-1zM335 337h1v1h-1zM361 337h1v1h-1zM386 337h1v1h-1zM412 337h1v1h-1zM437 337h1v1h-1zM130 338h1v1h-1zM155 338h1v1h-1zM181 338h1v1h-1zM207 338h1v1h-1zM232 338h1v1h-1zM258 338h1v1h-1zM284 338h1v1h-1zM309 338h1v1h-1zM335 338h1v1h-1zM361 338h1v1h-1zM386 338h1v1h-1zM412 338h1v1h-1zM437 338h1v1h-1zM109 339h2v1h-2zM114 339h2v1h-2zM119 339h2v1h-2zM124 339h2v1h-2zM129 339h2v1h-2zM134 339h2v1h-2zM139 339h2v1h-2zM144 339h2v1h-2zM149 339h2v1h-2zM154 339h2v1h-2zM159 339h2v1h-2zM164 339h2v1h-2zM169 339h2v1h-2zM174 339h2v1h-2zM179 339h2v1h-2zM184 339h2v1h-2zM189 339h2v1h-2zM194 339h2v1h-2zM199 339h2v1h-2zM204 339h2v1h-2zM209 339h2v1h-2zM214 339h2v1h-2zM219 339h2v1h-2zM224 339h2v1h-2zM229 339h2v1h-2zM234 339h2v1h-2zM239 339h2v1h-2zM244 339h2v1h-2zM249 339h2v1h-2zM254 339h2v1h-2zM259 339h2v1h-2zM264 339h2v1h-2zM269 339h2v1h-2zM274 339h2v1h-2zM279 339h2v1h-2zM284 339h2v1h-2zM289 339h2v1h-2zM294 339h2v1h-2zM299 339h2v1h-2zM304 339h2v1h-2zM309 339h2v1h-2zM314 339h2v1h-2zM319 339h2v1h-2zM324 339h2v1h-2zM329 339h2v1h-2zM334 339h2v1h-2zM339 339h2v1h-2zM344 339h2v1h-2zM354 339h2v1h-2zM359 339h2v1h-2zM364 339h2v1h-2zM369 339h2v1h-2zM374 339h2v1h-2zM379 339h2v1h-2zM384 339h2v1h-2zM389 339h2v1h-2zM394 339h2v1h-2zM399 339h2v1h-2zM404 339h2v1h-2zM409 339h2v1h-2zM414 339h2v1h-2zM419 339h2v1h-2zM424 339h2v1h-2zM429 339h2v1h-2zM434 339h2v1h-2zM439 339h2v1h-2zM444 339h2v1h-2zM449 339h2v1h-2zM454 339h2v1h-2zM459 339h2v1h-2zM463 339h3v1h-3zM469 339h2v1h-2zM474 339h2v1h-2zM479 339h2v1h-2zM484 339h2v1h-2zM489 339h2v1h-2zM494 339h2v1h-2zM499 339h2v1h-2zM504 339h2v1h-2zM509 339h2v1h-2zM514 339h2v1h-2zM519 339h2v1h-2zM524 339h2v1h-2zM529 339h2v1h-2zM534 339h2v1h-2zM539 339h2v1h-2zM544 339h2v1h-2zM549 339h2v1h-2zM554 339h2v1h-2zM559 339h2v1h-2zM564 339h3v1h-3zM569 339h2v1h-2zM574 339h2v1h-2zM579 339h2v1h-2zM584 339h2v1h-2zM589 339h3v1h-3zM594 339h2v1h-2zM599 339h2v1h-2zM604 339h2v1h-2zM609 339h2v1h-2zM463 340h1v1h-1zM489 340h1v1h-1zM514 340h1v1h-1zM540 340h1v1h-1zM566 340h1v1h-1zM591 340h1v1h-1zM130 342h1v1h-1zM155 342h1v1h-1zM181 342h1v1h-1zM207 342h1v1h-1zM232 342h1v1h-1zM258 342h1v1h-1zM284 342h1v1h-1zM309 342h1v1h-1zM335 342h1v1h-1zM386 342h1v1h-1zM412 342h1v1h-1zM437 342h1v1h-1zM130 343h1v1h-1zM155 343h1v1h-1zM181 343h1v1h-1zM207 343h1v1h-1zM232 343h1v1h-1zM258 343h1v1h-1zM284 343h1v1h-1zM309 343h1v1h-1zM335 343h1v1h-1zM361 343h1v1h-1zM386 343h1v1h-1zM412 343h1v1h-1zM437 343h1v1h-1zM463 344h1v1h-1zM489 344h1v1h-1zM514 344h1v1h-1zM540 344h1v1h-1zM566 344h1v1h-1zM591 344h1v1h-1zM463 345h1v1h-1zM489 345h1v1h-1zM514 345h1v1h-1zM540 345h1v1h-1zM566 345h1v1h-1zM591 345h1v1h-1zM130 347h1v1h-1zM155 347h1v1h-1zM181 347h1v1h-1zM207 347h1v1h-1zM232 347h1v1h-1zM258 347h1v1h-1zM284 347h1v1h-1zM309 347h1v1h-1zM335 347h1v1h-1zM361 347h1v1h-1zM412 347h1v1h-1zM437 347h1v1h-1zM130 348h1v1h-1zM155 348h1v1h-1zM181 348h1v1h-1zM207 348h1v1h-1zM232 348h1v1h-1zM258 348h1v1h-1zM284 348h1v1h-1zM309 348h1v1h-1zM335 348h1v1h-1zM361 348h1v1h-1zM386 348h1v1h-1zM412 348h1v1h-1zM437 348h1v1h-1zM463 349h1v1h-1zM489 349h1v1h-1zM514 349h1v1h-1zM540 349h1v1h-1zM566 349h1v1h-1zM591 349h1v1h-1zM463 350h1v1h-1zM489 350h1v1h-1zM514 350h1v1h-1zM540 350h1v1h-1zM566 350h1v1h-1zM591 350h1v1h-1zM130 352h1v1h-1zM155 352h1v1h-1zM181 352h1v1h-1zM232 352h1v1h-1zM258 352h1v1h-1zM284 352h1v1h-1zM309 352h1v1h-1zM335 352h1v1h-1zM361 352h1v1h-1zM386 352h1v1h-1zM437 352h1v1h-1zM130 353h1v1h-1zM155 353h1v1h-1zM181 353h1v1h-1zM207 353h1v1h-1zM232 353h1v1h-1zM258 353h1v1h-1zM284 353h1v1h-1zM309 353h1v1h-1zM335 353h1v1h-1zM361 353h1v1h-1zM386 353h1v1h-1zM412 353h1v1h-1zM437 353h1v1h-1zM463 354h1v1h-1zM489 354h1v1h-1zM514 354h1v1h-1zM540 354h1v1h-1zM566 354h1v1h-1zM591 354h1v1h-1zM463 355h1v1h-1zM489 355h1v1h-1zM514 355h1v1h-1zM540 355h1v1h-1zM566 355h1v1h-1zM591 355h1v1h-1zM130 357h1v1h-1zM155 357h1v1h-1zM181 357h1v1h-1zM207 357h1v1h-1zM258 357h1v1h-1zM284 357h1v1h-1zM309 357h1v1h-1zM335 357h1v1h-1zM361 357h1v1h-1zM386 357h1v1h-1zM412 357h1v1h-1zM130 358h1v1h-1zM155 358h1v1h-1zM181 358h1v1h-1zM207 358h1v1h-1zM232 358h1v1h-1zM258 358h1v1h-1zM284 358h1v1h-1zM309 358h1v1h-1zM335 358h1v1h-1zM361 358h1v1h-1zM386 358h1v1h-1zM412 358h1v1h-1zM437 358h1v1h-1zM463 359h1v1h-1zM489 359h1v1h-1zM514 359h1v1h-1zM540 359h1v1h-1zM566 359h1v1h-1zM591 359h1v1h-1zM463 360h1v1h-1zM489 360h1v1h-1zM514 360h1v1h-1zM540 360h1v1h-1zM566 360h1v1h-1zM591 360h1v1h-1zM130 362h1v1h-1zM155 362h1v1h-1zM181 362h1v1h-1zM207 362h1v1h-1zM232 362h1v1h-1zM258 362h1v1h-1zM284 362h1v1h-1zM309 362h1v1h-1zM335 362h1v1h-1zM361 362h1v1h-1zM386 362h1v1h-1zM412 362h1v1h-1zM437 362h1v1h-1zM130 363h1v1h-1zM155 363h1v1h-1zM181 363h1v1h-1zM207 363h1v1h-1zM232 363h1v1h-1zM284 363h1v1h-1zM309 363h1v1h-1zM335 363h1v1h-1zM361 363h1v1h-1zM386 363h1v1h-1zM412 363h1v1h-1zM437 363h1v1h-1zM463 364h1v1h-1zM489 364h1v1h-1zM514 364h1v1h-1zM540 364h1v1h-1zM566 364h1v1h-1zM591 364h1v1h-1zM463 365h1v1h-1zM489 365h1v1h-1zM514 365h1v1h-1zM540 365h1v1h-1zM566 365h1v1h-1zM591 365h1v1h-1zM155 367h1v1h-1zM181 367h1v1h-1zM207 367h1v1h-1zM232 367h1v1h-1zM258 367h1v1h-1zM284 367h1v1h-1zM309 367h1v1h-1zM335 367h1v1h-1zM361 367h1v1h-1zM386 367h1v1h-1zM412 367h1v1h-1zM437 367h1v1h-1zM155 368h1v1h-1zM181 368h1v1h-1zM207 368h1v1h-1zM232 368h1v1h-1zM258 368h1v1h-1zM284 368h1v1h-1zM309 368h1v1h-1zM335 368h1v1h-1zM361 368h1v1h-1zM386 368h1v1h-1zM412 368h1v1h-1zM437 368h1v1h-1zM463 369h1v1h-1zM489 369h1v1h-1zM514 369h1v1h-1zM540 369h1v1h-1zM566 369h1v1h-1zM591 369h1v1h-1zM463 370h1v1h-1zM489 370h1v1h-1zM540 370h1v1h-1zM566 370h1v1h-1zM591 370h1v1h-1zM155 372h1v1h-1zM181 372h1v1h-1zM207 372h1v1h-1zM232 372h1v1h-1zM258 372h1v1h-1zM284 372h1v1h-1zM335 372h1v1h-1zM361 372h1v1h-1zM386 372h1v1h-1zM412 372h1v1h-1zM437 372h1v1h-1zM155 373h1v1h-1zM181 373h1v1h-1zM207 373h1v1h-1zM232 373h1v1h-1zM258 373h1v1h-1zM284 373h1v1h-1zM309 373h1v1h-1zM335 373h1v1h-1zM361 373h1v1h-1zM386 373h1v1h-1zM412 373h1v1h-1zM437 373h1v1h-1zM463 374h1v1h-1zM489 374h1v1h-1zM540 374h1v1h-1zM566 374h1v1h-1zM591 374h1v1h-1zM463 375h1v1h-1zM489 375h1v1h-1zM540 375h1v1h-1zM566 375h1v1h-1zM591 375h1v1h-1zM130 377h1v1h-1zM155 377h1v1h-1zM181 377h1v1h-1zM207 377h1v1h-1zM232 377h1v1h-1zM258 377h1v1h-1zM284 377h1v1h-1zM335 377h1v1h-1zM361 377h1v1h-1zM386 377h1v1h-1zM412 377h1v1h-1zM437 377h1v1h-1zM130 378h1v1h-1zM181 378h1v1h-1zM207 378h1v1h-1zM232 378h1v1h-1zM258 378h1v1h-1zM284 378h1v1h-1zM309 378h1v1h-1zM335 378h1v1h-1zM361 378h1v1h-1zM386 378h1v1h-1zM412 378h1v1h-1zM437 378h1v1h-1zM109 379h2v1h-2zM114 379h2v1h-2zM119 379h2v1h-2zM124 379h2v1h-2zM129 379h2v1h-2zM134 379h2v1h-2zM139 379h2v1h-2zM144 379h2v1h-2zM149 379h1v1h-1zM159 379h2v1h-2zM164 379h2v1h-2zM169 379h2v1h-2zM174 379h2v1h-2zM179 379h2v1h-2zM184 379h2v1h-2zM189 379h2v1h-2zM194 379h2v1h-2zM199 379h2v1h-2zM204 379h2v1h-2zM209 379h2v1h-2zM214 379h2v1h-2zM219 379h2v1h-2zM224 379h2v1h-2zM229 379h2v1h-2zM234 379h2v1h-2zM239 379h2v1h-2zM244 379h2v1h-2zM249 379h2v1h-2zM254 379h2v1h-2zM259 379h2v1h-2zM264 379h2v1h-2zM269 379h2v1h-2zM274 379h2v1h-2zM279 379h2v1h-2zM284 379h2v1h-2zM289 379h2v1h-2zM294 379h2v1h-2zM299 379h2v1h-2zM304 379h2v1h-2zM309 379h2v1h-2zM314 379h2v1h-2zM319 379h2v1h-2zM324 379h2v1h-2zM329 379h2v1h-2zM334 379h2v1h-2zM339 379h2v1h-2zM344 379h2v1h-2zM349 379h2v1h-2zM354 379h2v1h-2zM369 379h2v1h-2zM374 379h2v1h-2zM379 379h2v1h-2zM384 379h2v1h-2zM389 379h2v1h-2zM394 379h2v1h-2zM399 379h2v1h-2zM404 379h2v1h-2zM409 379h2v1h-2zM414 379h2v1h-2zM419 379h2v1h-2zM424 379h2v1h-2zM429 379h2v1h-2zM434 379h2v1h-2zM439 379h2v1h-2zM444 379h2v1h-2zM449 379h2v1h-2zM454 379h2v1h-2zM459 379h2v1h-2zM463 379h3v1h-3zM469 379h2v1h-2zM474 379h2v1h-2zM479 379h2v1h-2zM484 379h2v1h-2zM489 379h2v1h-2zM494 379h2v1h-2zM499 379h2v1h-2zM504 379h2v1h-2zM509 379h2v1h-2zM514 379h2v1h-2zM519 379h2v1h-2zM524 379h2v1h-2zM529 379h2v1h-2zM534 379h2v1h-2zM539 379h2v1h-2zM544 379h2v1h-2zM549 379h2v1h-2zM554 379h2v1h-2zM559 379h2v1h-2zM564 379h3v1h-3zM569 379h2v1h-2zM574 379h2v1h-2zM579 379h2v1h-2zM584 379h2v1h-2zM589 379h3v1h-3zM594 379h2v1h-2zM599 379h2v1h-2zM604 379h2v1h-2zM609 379h2v1h-2zM463 380h1v1h-1zM489 380h1v1h-1zM514 380h1v1h-1zM540 380h1v1h-1zM566 380h1v1h-1zM591 380h1v1h-1zM130 382h1v1h-1zM181 382h1v1h-1zM207 382h1v1h-1zM232 382h1v1h-1zM258 382h1v1h-1zM284 382h1v1h-1zM309 382h1v1h-1zM335 382h1v1h-1zM361 382h1v1h-1zM386 382h1v1h-1zM412 382h1v1h-1zM437 382h1v1h-1zM130 383h1v1h-1zM181 383h1v1h-1zM207 383h1v1h-1zM232 383h1v1h-1zM258 383h1v1h-1zM284 383h1v1h-1zM309 383h1v1h-1zM335 383h1v1h-1zM361 383h1v1h-1zM386 383h1v1h-1zM412 383h1v1h-1zM437 383h1v1h-1zM463 384h1v1h-1zM489 384h1v1h-1zM514 384h1v1h-1zM540 384h1v1h-1zM566 384h1v1h-1zM591 384h1v1h-1zM463 385h1v1h-1zM489 385h1v1h-1zM514 385h1v1h-1zM540 385h1v1h-1zM566 385h1v1h-1zM591 385h1v1h-1zM130 387h1v1h-1zM155 387h1v1h-1zM207 387h1v1h-1zM232 387h1v1h-1zM258 387h1v1h-1zM284 387h1v1h-1zM309 387h1v1h-1zM335 387h1v1h-1zM361 387h1v1h-1zM386 387h1v1h-1zM412 387h1v1h-1zM437 387h1v1h-1zM130 388h1v1h-1zM155 388h1v1h-1zM181 388h1v1h-1zM207 388h1v1h-1zM232 388h1v1h-1zM258 388h1v1h-1zM284 388h1v1h-1zM309 388h1v1h-1zM335 388h1v1h-1zM361 388h1v1h-1zM386 388h1v1h-1zM412 388h1v1h-1zM437 388h1v1h-1zM463 389h1v1h-1zM489 389h1v1h-1zM514 389h1v1h-1zM540 389h1v1h-1zM566 389h1v1h-1zM591 389h1v1h-1zM463 390h1v1h-1zM489 390h1v1h-1zM540 390h1v1h-1zM566 390h1v1h-1zM591 390h1v1h-1zM130 392h1v1h-1zM155 392h1v1h-1zM181 392h1v1h-1zM232 392h1v1h-1zM258 392h1v1h-1zM284 392h1v1h-1zM309 392h1v1h-1zM335 392h1v1h-1zM361 392h1v1h-1zM386 392h1v1h-1zM412 392h1v1h-1zM437 392h1v1h-1zM130 393h1v1h-1zM155 393h1v1h-1zM181 393h1v1h-1zM232 393h1v1h-1zM258 393h1v1h-1zM284 393h1v1h-1zM309 393h1v1h-1zM335 393h1v1h-1zM361 393h1v1h-1zM386 393h1v1h-1zM412 393h1v1h-1zM437 393h1v1h-1zM463 394h1v1h-1zM489 394h1v1h-1zM514 394h1v1h-1zM540 394h1v1h-1zM463 395h1v1h-1zM489 395h1v1h-1zM540 395h1v1h-1zM566 395h1v1h-1zM591 395h1v1h-1zM181 397h1v1h-1zM207 397h1v1h-1zM232 397h1v1h-1zM284 397h1v1h-1zM309 397h1v1h-1zM335 397h1v1h-1zM361 397h1v1h-1zM386 397h1v1h-1zM412 397h1v1h-1zM437 397h1v1h-1zM130 398h1v1h-1zM155 398h1v1h-1zM181 398h1v1h-1zM207 398h1v1h-1zM232 398h1v1h-1zM258 398h1v1h-1zM284 398h1v1h-1zM335 398h1v1h-1zM361 398h1v1h-1zM386 398h1v1h-1zM412 398h1v1h-1zM437 398h1v1h-1zM463 399h1v1h-1zM489 399h1v1h-1zM540 399h1v1h-1zM566 399h1v1h-1zM591 399h1v1h-1zM463 400h1v1h-1zM489 400h1v1h-1zM540 400h1v1h-1zM566 400h1v1h-1zM591 400h1v1h-1zM130 402h1v1h-1zM155 402h1v1h-1zM181 402h1v1h-1zM207 402h1v1h-1zM232 402h1v1h-1zM258 402h1v1h-1zM284 402h1v1h-1zM335 402h1v1h-1zM361 402h1v1h-1zM386 402h1v1h-1zM412 402h1v1h-1zM437 402h1v1h-1zM155 403h1v1h-1zM181 403h1v1h-1zM232 403h1v1h-1zM258 403h1v1h-1zM284 403h1v1h-1zM335 403h1v1h-1zM361 403h1v1h-1zM386 403h1v1h-1zM412 403h1v1h-1zM437 403h1v1h-1zM463 404h1v1h-1zM489 404h1v1h-1zM540 404h1v1h-1zM566 404h1v1h-1zM591 404h1v1h-1zM463 405h1v1h-1zM489 405h1v1h-1zM540 405h1v1h-1zM566 405h1v1h-1zM591 405h1v1h-1zM463 409h1v1h-1zM489 409h1v1h-1zM540 409h1v1h-1zM566 409h1v1h-1zM591 409h1v1h-1zM463 410h1v1h-1zM489 410h1v1h-1zM540 410h1v1h-1zM566 410h1v1h-1zM591 410h1v1h-1zM130 412h1v1h-1zM155 412h1v1h-1zM181 412h1v1h-1zM207 412h1v1h-1zM232 412h1v1h-1zM258 412h1v1h-1zM284 412h1v1h-1zM309 412h1v1h-1zM335 412h1v1h-1zM361 412h1v1h-1zM386 412h1v1h-1zM412 412h1v1h-1zM437 412h1v1h-1zM155 413h1v1h-1zM181 413h1v1h-1zM207 413h1v1h-1zM232 413h1v1h-1zM258 413h1v1h-1zM284 413h1v1h-1zM309 413h1v1h-1zM335 413h1v1h-1zM361 413h1v1h-1zM386 413h1v1h-1zM412 413h1v1h-1zM437 413h1v1h-1zM463 414h1v1h-1zM489 414h1v1h-1zM514 414h1v1h-1zM540 414h1v1h-1zM566 414h1v1h-1zM591 414h1v1h-1z"/>
<path fill="#ff0000" d="M579 27h1v1h-1zM579 28h1v1h-1zM579 29h1v1h-1zM559 30h41v1h-41zM579 31h1v1h-1zM579 32h1v1h-1zM579 33h1v1h-1zM130 413h1v1h-1zM101 414h3v1h-3zM105 414h6v1h-6zM130 414h1v1h-1zM155 414h1v1h-1zM111 415h13v1h-13zM130 415h1v1h-1zM155 415h1v1h-1zM207 415h1v1h-1zM309 415h1v1h-1zM514 415h1v1h-1zM124 416h19v1h-19zM155 416h1v1h-1zM207 416h1v1h-1zM309 416h1v1h-1zM514 416h1v1h-1zM130 417h1v1h-1zM143 417h38v1h-38zM207 417h1v1h-1zM309 417h1v1h-1zM514 417h1v1h-1zM130 418h1v1h-1zM155 418h1v1h-1zM181 418h436v1h-436zM618 418h3v1h-3zM155 420h1v1h-1zM207 420h1v1h-1zM309 420h1v1h-1zM514 420h1v1h-1zM617 420h1v1h-1zM207 421h1v1h-1zM309 421h1v1h-1zM514 421h1v1h-1zM617 421h1v1h-1z"/>
<path fill="#00c000" d="M576 46h1v1h-1zM582 46h1v1h-1zM577 47h1v1h-1zM581 47h1v1h-1zM578 48h1v1h-1zM580 48h1v1h-1zM559 49h41v1h-41zM578 50h1v1h-1zM580 50h1v1h-1zM577 51h1v1h-1zM581 51h1v1h-1zM576 52h1v1h-1zM582 52h1v1h-1zM101 400h1v1h-1zM107 400h1v1h-1zM102 401h1v1h-1zM106 401h1v1h-1zM103 402h1v1h-1zM105 402h1v1h-1zM105 403h3v1h-3zM103 404h1v1h-1zM105 404h1v1h-1zM108 404h6v1h-6zM127 404h1v1h-1zM133 404h1v1h-1zM102 405h1v1h-1zM106 405h1v1h-1zM114 405h7v1h-7zM132 405h1v1h-1zM101 406h1v1h-1zM107 406h1v1h-1zM121 406h6v1h-6zM619 406h1v1h-1zM127 407h2v1h-2zM132 407h11v1h-11zM129 408h1v1h-1zM131 408h1v1h-1zM181 408h23v1h-23zM205 408h1v1h-1zM209 408h1v1h-1zM211 408h95v1h-95zM307 408h1v1h-1zM311 408h1v1h-1zM313 408h198v1h-198zM512 408h1v1h-1zM516 408h1v1h-1zM518 408h96v1h-96zM615 408h1v1h-1zM128 409h1v1h-1zM132 409h1v1h-1zM127 410h1v1h-1zM133 410h1v1h-1zM205 410h1v1h-1zM209 410h1v1h-1zM307 410h1v1h-1zM311 410h1v1h-1zM512 410h1v1h-1zM516 410h1v1h-1zM615 410h1v1h-1zM619 410h1v1h-1zM204 411h1v1h-1zM210 411h1v1h-1zM306 411h1v1h-1zM312 411h1v1h-1zM511 411h1v1h-1zM517 411h1v1h-1zM614 411h1v1h-1zM620 411h1v1h-1z"/>
<path fill="#0080ff" d="M576 65h1v1h-1zM579 65h1v1h-1zM582 65h1v1h-1zM577 66h1v1h-1zM579 66h1v1h-1zM581 66h1v1h-1zM578 67h3v1h-3zM559 68h41v1h-41zM578 69h3v1h-3zM577 70h1v1h-1zM579 70h1v1h-1zM581 70h1v1h-1zM576 71h1v1h-1zM579 71h1v1h-1zM582 71h1v1h-1zM101 390h1v1h-1zM107 390h1v1h-1zM102 391h1v1h-1zM106 391h1v1h-1zM103 392h1v1h-1zM105 392h1v1h-1zM101 393h3v1h-3zM105 393h3v1h-3zM103 394h1v1h-1zM105 394h2v1h-2zM102 395h1v1h-1zM106 395h3v1h-3zM101 396h1v1h-1zM107 396h1v1h-1zM109 396h2v1h-2zM111 397h2v1h-2zM113 398h2v1h-2zM115 399h2v1h-2zM117 400h2v1h-2zM119 401h2v1h-2zM121 402h2v1h-2zM123 403h2v1h-2zM127 403h1v1h-1zM130 403h1v1h-1zM133 403h1v1h-1zM125 404h2v1h-2zM128 404h1v1h-1zM130 404h1v1h-1zM132 404h1v1h-1zM152 404h1v1h-1zM155 404h1v1h-1zM158 404h1v1h-1zM207 404h1v1h-1zM127 405h5v1h-5zM153 405h1v1h-1zM155 405h1v1h-1zM157 405h1v1h-1zM205 405h1v1h-1zM207 405h1v1h-1zM209 405h1v1h-1zM307 405h1v1h-1zM309 405h1v1h-1zM311 405h1v1h-1zM512 405h1v1h-1zM514 405h1v1h-1zM516 405h1v1h-1zM615 405h1v1h-1zM619 405h1v1h-1zM127 406h16v1h-16zM154 406h3v1h-3zM618 406h1v1h-1zM129 407h3v1h-3zM143 407h61v1h-61zM205 407h5v1h-5zM211 407h95v1h-95zM307 407h5v1h-5zM313 407h198v1h-198zM512 407h5v1h-5zM518 407h96v1h-96zM615 407h2v1h-2zM618 407h2v1h-2zM128 408h1v1h-1zM130 408h1v1h-1zM132 408h1v1h-1zM154 408h3v1h-3zM206 408h3v1h-3zM308 408h3v1h-3zM513 408h3v1h-3zM616 408h1v1h-1zM618 408h1v1h-1zM127 409h1v1h-1zM130 409h1v1h-1zM133 409h1v1h-1zM153 409h1v1h-1zM155 409h1v1h-1zM157 409h1v1h-1zM152 410h1v1h-1zM155 410h1v1h-1zM158 410h1v1h-1zM204 410h1v1h-1zM207 410h1v1h-1zM210 410h1v1h-1zM306 410h1v1h-1zM309 410h1v1h-1zM312 410h1v1h-1zM511 410h1v1h-1zM514 410h1v1h-1zM517 410h1v1h-1zM614 410h1v1h-1zM620 410h1v1h-1z"/>
<path fill="#c000ff" d="M576 84h7v1h-7zM576 85h1v1h-1zM582 85h1v1h-1zM576 86h1v1h-1zM582 86h1v1h-1zM559 87h41v1h-41zM576 88h1v1h-1zM582 88h1v1h-1zM576 89h1v1h-1zM582 89h1v1h-1zM576 90h7v1h-7zM101 368h3v1h-3zM105 368h3v1h-3zM101 369h1v1h-1zM107 369h1v1h-1zM101 370h1v1h-1zM107 370h1v1h-1zM101 371h1v1h-1zM107 371h1v1h-1zM101 372h1v1h-1zM105 372h1v1h-1zM107 372h1v1h-1zM101 373h1v1h-1zM106 373h2v1h-2zM101 374h3v1h-3zM105 374h3v1h-3zM108 375h2v1h-2zM110 376h1v1h-1zM111 377h1v1h-1zM112 378h1v1h-1zM113 379h1v1h-1zM114 380h1v1h-1zM115 381h1v1h-1zM116 382h1v1h-1zM117 383h2v1h-2zM119 384h1v1h-1zM120 385h1v1h-1zM121 386h1v1h-1zM122 387h1v1h-1zM123 388h1v1h-1zM124 389h1v1h-1zM125 390h2v1h-2zM127 391h7v1h-7zM152 391h7v1h-7zM127 392h2v1h-2zM133 392h1v1h-1zM152 392h1v1h-1zM158 392h1v1h-1zM127 393h1v1h-1zM129 393h1v1h-1zM133 393h1v1h-1zM152 393h1v1h-1zM158 393h1v1h-1zM127 394h1v1h-1zM130 394h29v1h-29zM127 395h1v1h-1zM133 395h1v1h-1zM152 395h1v1h-1zM158 395h4v1h-4zM127 396h1v1h-1zM133 396h1v1h-1zM152 396h1v1h-1zM158 396h1v1h-1zM162 396h4v1h-4zM127 397h7v1h-7zM152 397h7v1h-7zM166 397h5v1h-5zM171 398h4v1h-4zM175 399h4v1h-4zM179 400h5v1h-5zM184 401h4v1h-4zM188 402h4v1h-4zM192 403h5v1h-5zM204 403h7v1h-7zM197 404h4v1h-4zM204 404h1v1h-1zM210 404h1v1h-1zM201 405h4v1h-4zM210 405h1v1h-1zM306 405h1v1h-1zM312 405h1v1h-1zM511 405h1v1h-1zM517 405h1v1h-1zM614 405h1v1h-1zM620 405h1v1h-1zM204 406h413v1h-413zM620 406h1v1h-1zM204 407h1v1h-1zM210 407h1v1h-1zM306 407h1v1h-1zM312 407h1v1h-1zM511 407h1v1h-1zM517 407h1v1h-1zM614 407h1v1h-1zM620 407h1v1h-1zM204 408h1v1h-1zM210 408h1v1h-1zM306 408h1v1h-1zM312 408h1v1h-1zM511 408h1v1h-1zM517 408h1v1h-1zM614 408h1v1h-1zM620 408h1v1h-1zM204 409h7v1h-7zM306 409h7v1h-7zM511 409h7v1h-7zM614 409h3v1h-3zM618 409h3v1h-3z"/>
<path fill="#00eeee" d="M576 103h7v1h-7zM576 104h7v1h-7zM576 105h7v1h-7zM559 106h41v1h-41zM576 107h7v1h-7zM576 108h7v1h-7zM576 109h7v1h-7zM101 323h3v1h-3zM105 323h3v1h-3zM101 324h3v1h-3zM105 324h3v1h-3zM101 325h3v1h-3zM105 325h3v1h-3zM101 326h3v1h-3zM105 326h3v1h-3zM101 327h3v1h-3zM105 327h3v1h-3zM101 328h3v1h-3zM105 328h3v1h-3zM101 329h3v1h-3zM105 329h3v1h-3zM106 330h1v1h-1zM107 331h1v1h-1zM108 332h1v1h-1zM108 333h1v1h-1zM109 334h1v1h-1zM109 335h1v1h-1zM110 336h1v1h-1zM111 337h1v1h-1zM111 338h1v1h-1zM112 339h1v1h-1zM112 340h1v1h-1zM113 341h1v1h-1zM113 342h1v1h-1zM114 343h1v1h-1zM115 344h1v1h-1zM115 345h1v1h-1zM116 346h1v1h-1zM116 347h1v1h-1zM117 348h1v1h-1zM118 349h1v1h-1zM118 350h1v1h-1zM119 351h1v1h-1zM119 352h1v1h-1zM120 353h1v1h-1zM121 354h1v1h-1zM121 355h1v1h-1zM122 356h1v1h-1zM122 357h1v1h-1zM123 358h1v1h-1zM124 359h1v1h-1zM124 360h1v1h-1zM125 361h1v1h-1zM125 362h1v1h-1zM126 363h1v1h-1zM126 364h1v1h-1zM127 365h1v1h-1zM128 366h1v1h-1zM127 367h7v1h-7zM127 368h7v1h-7zM127 369h7v1h-7zM127 370h7v1h-7zM127 371h7v1h-7zM127 372h9v1h-9zM127 373h7v1h-7zM136 373h2v1h-2zM138 374h3v1h-3zM141 375h2v1h-2zM143 376h2v1h-2zM145 377h3v1h-3zM148 378h2v1h-2zM152 378h7v1h-7zM150 379h9v1h-9zM152 380h7v1h-7zM152 381h7v1h-7zM152 382h11v1h-11zM152 383h7v1h-7zM163 383h4v1h-4zM152 384h7v1h-7zM167 384h5v1h-5zM172 385h5v1h-5zM177 386h4v1h-4zM181 387h5v1h-5zM186 388h5v1h-5zM191 389h5v1h-5zM204 389h7v1h-7zM196 390h4v1h-4zM204 390h7v1h-7zM200 391h11v1h-11zM204 392h9v1h-9zM204 393h7v1h-7zM213 393h11v1h-11zM204 394h7v1h-7zM224 394h12v1h-12zM204 395h7v1h-7zM236 395h11v1h-11zM247 396h11v1h-11zM258 397h12v1h-12zM270 398h11v1h-11zM306 398h7v1h-7zM511 398h7v1h-7zM614 398h3v1h-3zM618 398h3v1h-3zM281 399h11v1h-11zM306 399h7v1h-7zM511 399h7v1h-7zM614 399h3v1h-3zM618 399h3v1h-3zM292 400h12v1h-12zM306 400h7v1h-7zM511 400h7v1h-7zM614 400h3v1h-3zM618 400h3v1h-3zM304 401h313v1h-313zM618 401h3v1h-3zM306 402h7v1h-7zM511 402h7v1h-7zM614 402h3v1h-3zM618 402h3v1h-3zM306 403h7v1h-7zM511 403h7v1h-7zM614 403h3v1h-3zM618 403h3v1h-3zM306 404h7v1h-7zM511 404h7v1h-7zM614 404h3v1h-3zM618 404h3v1h-3z"/>
<path fill="#c04000" d="M579 122h1v1h-1zM577 123h5v1h-5zM577 124h1v1h-1zM581 124h1v1h-1zM559 125h41v1h-41zM577 126h1v1h-1zM581 126h1v1h-1zM577 127h5v1h-5zM579 128h1v1h-1zM102 209h2v1h-2zM105 209h2v1h-2zM102 210h1v1h-1zM106 210h1v1h-1zM101 211h2v1h-2zM106 211h2v1h-2zM102 212h1v1h-1zM106 212h1v1h-1zM102 213h2v1h-2zM105 213h2v1h-2zM105 214h1v1h-1zM105 215h1v1h-1zM105 216h1v1h-1zM106 217h1v1h-1zM106 218h1v1h-1zM106 219h1v1h-1zM106 220h1v1h-1zM107 221h1v1h-1zM107 222h1v1h-1zM107 223h1v1h-1zM108 224h1v1h-1zM108 225h1v1h-1zM108 226h1v1h-1zM108 227h1v1h-1zM109 228h1v1h-1zM109 229h1v1h-1zM109 230h1v1h-1zM110 231h1v1h-1zM110 232h1v1h-1zM110 233h1v1h-1zM110 234h1v1h-1zM111 235h1v1h-1zM111 236h1v1h-1zM111 237h1v1h-1zM111 238h1v1h-1zM112 239h1v1h-1zM112 240h1v1h-1zM112 241h1v1h-1zM113 242h1v1h-1zM113 243h1v1h-1zM113 244h1v1h-1zM113 245h1v1h-1zM114 246h1v1h-1zM114 247h1v1h-1zM114 248h1v1h-1zM115 249h1v1h-1zM115 250h1v1h-1zM115 251h1v1h-1zM115 252h1v1h-1zM116 253h1v1h-1zM116 254h1v1h-1zM116 255h1v1h-1zM116 256h1v1h-1zM117 257h1v1h-1zM117 258h1v1h-1zM117 259h1v1h-1zM118 260h1v1h-1zM118 261h1v1h-1zM118 262h1v1h-1zM118 263h1v1h-1zM119 264h1v1h-1zM119 265h1v1h-1zM119 266h1v1h-1zM119 267h1v1h-1zM120 268h1v1h-1zM120 269h1v1h-1zM120 270h1v1h-1zM121 271h1v1h-1zM121 272h1v1h-1zM121 273h1v1h-1zM121 274h1v1h-1zM122 275h1v1h-1zM122 276h1v1h-1zM122 277h1v1h-1zM123 278h1v1h-1zM123 279h1v1h-1zM123 280h1v1h-1zM123 281h1v1h-1zM124 282h1v1h-1zM124 283h1v1h-1zM124 284h1v1h-1zM124 285h1v1h-1zM125 286h1v1h-1zM125 287h1v1h-1zM125 288h1v1h-1zM126 289h1v1h-1zM126 290h1v1h-1zM126 291h1v1h-1zM126 292h1v1h-1zM127 293h1v1h-1zM127 294h1v1h-1zM127 295h1v1h-1zM128 296h1v1h-1zM128 297h1v1h-1zM128 298h1v1h-1zM128 299h1v1h-1zM129 300h1v1h-1zM129 301h1v1h-1zM129 302h2v1h-2zM128 303h5v1h-5zM128 304h1v1h-1zM130 304h1v1h-1zM132 304h1v1h-1zM127 305h2v1h-2zM130 305h1v1h-1zM132 305h2v1h-2zM128 306h1v1h-1zM131 306h2v1h-2zM128 307h5v1h-5zM130 308h1v1h-1zM133 308h1v1h-1zM134 309h1v1h-1zM135 310h1v1h-1zM136 311h1v1h-1zM137 312h1v1h-1zM138 313h1v1h-1zM139 314h1v1h-1zM140 315h1v1h-1zM141 316h1v1h-1zM142 317h2v1h-2zM144 318h1v1h-1zM145 319h1v1h-1zM146 320h1v1h-1zM147 321h1v1h-1zM148 322h1v1h-1zM149 323h1v1h-1zM150 324h1v1h-1zM151 325h1v1h-1zM152 326h1v1h-1zM155 326h1v1h-1zM153 327h5v1h-5zM153 328h2v1h-2zM157 328h1v1h-1zM152 329h2v1h-2zM155 329h4v1h-4zM153 330h1v1h-1zM157 330h2v1h-2zM153 331h5v1h-5zM159 331h2v1h-2zM155 332h1v1h-1zM161 332h2v1h-2zM163 333h3v1h-3zM166 334h2v1h-2zM168 335h2v1h-2zM170 336h2v1h-2zM172 337h3v1h-3zM175 338h2v1h-2zM177 339h2v1h-2zM179 340h2v1h-2zM181 341h3v1h-3zM184 342h2v1h-2zM186 343h2v1h-2zM188 344h3v1h-3zM191 345h2v1h-2zM193 346h2v1h-2zM195 347h2v1h-2zM197 348h3v1h-3zM200 349h2v1h-2zM207 349h1v1h-1zM202 350h2v1h-2zM205 350h5v1h-5zM204 351h2v1h-2zM209 351h1v1h-1zM204 352h7v1h-7zM205 353h1v1h-1zM209 353h5v1h-5zM205 354h5v1h-5zM214 354h5v1h-5zM207 355h1v1h-1zM219 355h5v1h-5zM224 356h4v1h-4zM228 357h5v1h-5zM233 358h5v1h-5zM238 359h4v1h-4zM242 360h5v1h-5zM247 361h5v1h-5zM252 362h4v1h-4zM256 363h5v1h-5zM261 364h4v1h-4zM265 365h5v1h-5zM270 366h5v1h-5zM275 367h4v1h-4zM279 368h5v1h-5zM284 369h5v1h-5zM289 370h4v1h-4zM293 371h5v1h-5zM309 371h1v1h-1zM298 372h5v1h-5zM307 372h5v1h-5zM303 373h5v1h-5zM311 373h1v1h-1zM306 374h9v1h-9zM307 375h1v1h-1zM311 375h1v1h-1zM315 375h11v1h-11zM307 376h5v1h-5zM326 376h10v1h-10zM309 377h1v1h-1zM336 377h11v1h-11zM347 378h11v1h-11zM358 379h11v1h-11zM369 380h11v1h-11zM380 381h10v1h-10zM390 382h11v1h-11zM401 383h11v1h-11zM412 384h11v1h-11zM423 385h11v1h-11zM434 386h10v1h-10zM444 387h11v1h-11zM455 388h11v1h-11zM466 389h11v1h-11zM477 390h11v1h-11zM514 390h1v1h-1zM488 391h10v1h-10zM512 391h5v1h-5zM498 392h11v1h-11zM512 392h1v1h-1zM516 392h1v1h-1zM615 392h2v1h-2zM618 392h2v1h-2zM509 393h57v1h-57zM615 393h1v1h-1zM619 393h1v1h-1zM512 394h1v1h-1zM516 394h1v1h-1zM566 394h51v1h-51zM619 394h2v1h-2zM512 395h5v1h-5zM615 395h1v1h-1zM619 395h1v1h-1zM514 396h1v1h-1zM615 396h2v1h-2zM618 396h2v1h-2z"/>
</g>
<g>
<text x="92" y="424" text-anchor="end">0</text>
<text x="92" y="384" text-anchor="end">200</text>
<text x="92.75" y="344" text-anchor="end">400</text>
<text x="92" y="303" text-anchor="end">600</text>
<text x="92" y="263" text-anchor="end">800</text>
<text x="92" y="223" text-anchor="end">1000</text>
<text x="92" y="183" text-anchor="end">1200</text>
<text x="92.75" y="143" text-anchor="end">1400</text>
<text x="92" y="102" text-anchor="end">1600</text>
<text x="92" y="62" text-anchor="end">1800</text>
<text x="92" y="22" text-anchor="end">2000</text>
<text x="104.75" y="443" text-anchor="middle">0</text>
<text x="130.75" y="443" text-anchor="middle">1</text>
<text x="155.75" y="443" text-anchor="middle">2</text>
<text x="181.75" y="443" text-anchor="middle">3</text>
<text x="207.75" y="443" text-anchor="middle">4</text>
<text x="232.75" y="443" text-anchor="middle">5</text>
<text x="258.75" y="443" text-anchor="middle">6</text>
<text x="284.75" y="443" text-anchor="middle">7</text>
<text x="309.75" y="443" text-anchor="middle">8</text>
<text x="335.75" y="443" text-anchor="middle">9</text>
<text x="360.65" y="443" text-anchor="middle" style="letter-spacing:-0.3px">10</text>
<text x="385.65" y="443" text-anchor="middle" style="letter-spacing:-0.3px">11</text>
<text x="411.65" y="443" text-anchor="middle" style="letter-spacing:-0.3px">12</text>
<text x="436.65" y="443" text-anchor="middle" style="letter-spacing:-0.3px">13</text>
<text x="462.65" y="443" text-anchor="middle" style="letter-spacing:-0.3px">14</text>
<text x="488.65" y="443" text-anchor="middle" style="letter-spacing:-0.3px">15</text>
<text x="513.65" y="443" text-anchor="middle" style="letter-spacing:-0.3px">16</text>
<text x="539.65" y="443" text-anchor="middle" style="letter-spacing:-0.3px">17</text>
<text x="565.65" y="443" text-anchor="middle" style="letter-spacing:-0.3px">18</text>
<text x="590.65" y="443" text-anchor="middle" style="letter-spacing:-0.3px">19</text>
<text x="616.65" y="443" text-anchor="middle" style="letter-spacing:-0.3px">20</text>
<text x="548" y="35" text-anchor="end">no index</text>
<text x="547.2" y="54" text-anchor="end">1 index</text>
<text x="547.6" y="73" text-anchor="end" style="word-spacing:-1.4px">2 indexes</text>
<text x="547.0" y="92" text-anchor="end" style="word-spacing:-1.0px">4 indexes</text>
<text x="547.3" y="111" text-anchor="end" style="word-spacing:-0.9px">8 indexes</text>
<text x="547.6" y="130" text-anchor="end" style="word-spacing:-0.7px">16 indexes</text>
<text x="546.7" y="149" text-anchor="end" style="word-spacing:-1.3px">32 indexes</text>
<text x="304.19" y="471" style="letter-spacing:-0.21px">Parallel</text>
<text x="360.94" y="471" style="letter-spacing:0.11px">Degree</text>
<text transform="translate(35,219.5) rotate(-90)" x="0" y="0" text-anchor="middle">Time (ms)</text>
</g>
</svg>
</body></html>
